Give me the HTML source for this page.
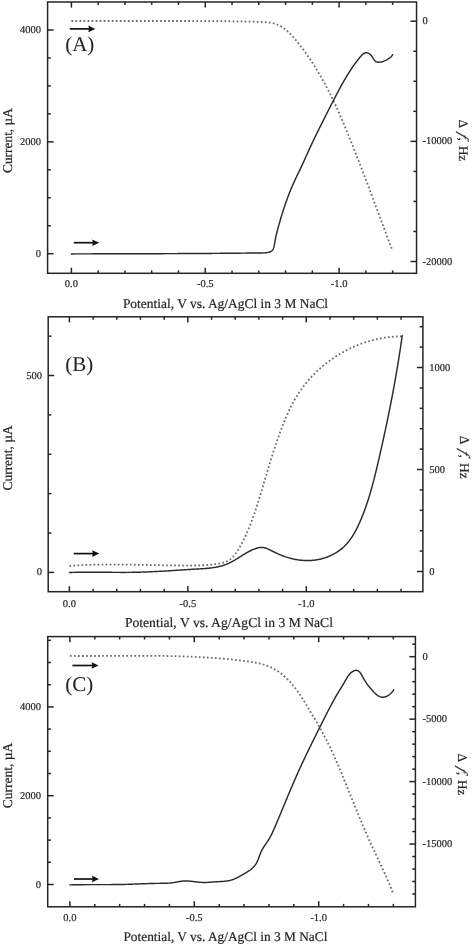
<!DOCTYPE html>
<html><head><meta charset="utf-8"><title>Figure</title>
<style>
html,body{margin:0;padding:0;background:#fff;}
body{width:472px;height:946px;overflow:hidden;}
svg{display:block;will-change:transform;}
text{font-family:"Liberation Serif",serif;fill:#262626;stroke:#262626;stroke-width:0.2px;text-rendering:geometricPrecision;}
</style></head>
<body>
<svg width="472" height="946" viewBox="0 0 472 946">
<rect width="472" height="946" fill="#fff"/>
<rect x="47.6" y="2" width="368.95" height="271.3" fill="none" stroke="#252525" stroke-width="1.5"/>
<line x1="71.4" y1="273.3" x2="71.4" y2="267.7" stroke="#252525" stroke-width="1.5"/>
<line x1="71.4" y1="2" x2="71.4" y2="7.6" stroke="#252525" stroke-width="1.5"/>
<text x="71.4" y="287.4" font-size="10.5" text-anchor="middle" >0.0</text>
<line x1="98.17" y1="273.3" x2="98.17" y2="270.4" stroke="#252525" stroke-width="1.5"/>
<line x1="98.17" y1="2" x2="98.17" y2="4.9" stroke="#252525" stroke-width="1.5"/>
<line x1="124.94" y1="273.3" x2="124.94" y2="270.4" stroke="#252525" stroke-width="1.5"/>
<line x1="124.94" y1="2" x2="124.94" y2="4.9" stroke="#252525" stroke-width="1.5"/>
<line x1="151.71" y1="273.3" x2="151.71" y2="270.4" stroke="#252525" stroke-width="1.5"/>
<line x1="151.71" y1="2" x2="151.71" y2="4.9" stroke="#252525" stroke-width="1.5"/>
<line x1="178.48" y1="273.3" x2="178.48" y2="270.4" stroke="#252525" stroke-width="1.5"/>
<line x1="178.48" y1="2" x2="178.48" y2="4.9" stroke="#252525" stroke-width="1.5"/>
<line x1="205.25" y1="273.3" x2="205.25" y2="267.7" stroke="#252525" stroke-width="1.5"/>
<line x1="205.25" y1="2" x2="205.25" y2="7.6" stroke="#252525" stroke-width="1.5"/>
<text x="205.25" y="287.4" font-size="10.5" text-anchor="middle" >-0.5</text>
<line x1="232.02" y1="273.3" x2="232.02" y2="270.4" stroke="#252525" stroke-width="1.5"/>
<line x1="232.02" y1="2" x2="232.02" y2="4.9" stroke="#252525" stroke-width="1.5"/>
<line x1="258.79" y1="273.3" x2="258.79" y2="270.4" stroke="#252525" stroke-width="1.5"/>
<line x1="258.79" y1="2" x2="258.79" y2="4.9" stroke="#252525" stroke-width="1.5"/>
<line x1="285.56" y1="273.3" x2="285.56" y2="270.4" stroke="#252525" stroke-width="1.5"/>
<line x1="285.56" y1="2" x2="285.56" y2="4.9" stroke="#252525" stroke-width="1.5"/>
<line x1="312.33" y1="273.3" x2="312.33" y2="270.4" stroke="#252525" stroke-width="1.5"/>
<line x1="312.33" y1="2" x2="312.33" y2="4.9" stroke="#252525" stroke-width="1.5"/>
<line x1="339.1" y1="273.3" x2="339.1" y2="267.7" stroke="#252525" stroke-width="1.5"/>
<line x1="339.1" y1="2" x2="339.1" y2="7.6" stroke="#252525" stroke-width="1.5"/>
<text x="339.1" y="287.4" font-size="10.5" text-anchor="middle" >-1.0</text>
<line x1="365.87" y1="273.3" x2="365.87" y2="270.4" stroke="#252525" stroke-width="1.5"/>
<line x1="365.87" y1="2" x2="365.87" y2="4.9" stroke="#252525" stroke-width="1.5"/>
<line x1="392.64" y1="273.3" x2="392.64" y2="270.4" stroke="#252525" stroke-width="1.5"/>
<line x1="392.64" y1="2" x2="392.64" y2="4.9" stroke="#252525" stroke-width="1.5"/>
<line x1="47.6" y1="253.7" x2="53.6" y2="253.7" stroke="#252525" stroke-width="1.5"/>
<text x="41" y="256.7" font-size="10.5" text-anchor="end" >0</text>
<line x1="47.6" y1="225.74" x2="50.8" y2="225.74" stroke="#252525" stroke-width="1.5"/>
<line x1="47.6" y1="197.77" x2="50.8" y2="197.77" stroke="#252525" stroke-width="1.5"/>
<line x1="47.6" y1="169.81" x2="50.8" y2="169.81" stroke="#252525" stroke-width="1.5"/>
<line x1="47.6" y1="141.85" x2="53.6" y2="141.85" stroke="#252525" stroke-width="1.5"/>
<text x="41" y="144.85" font-size="10.5" text-anchor="end" >2000</text>
<line x1="47.6" y1="113.89" x2="50.8" y2="113.89" stroke="#252525" stroke-width="1.5"/>
<line x1="47.6" y1="85.93" x2="50.8" y2="85.93" stroke="#252525" stroke-width="1.5"/>
<line x1="47.6" y1="57.96" x2="50.8" y2="57.96" stroke="#252525" stroke-width="1.5"/>
<line x1="47.6" y1="30" x2="53.6" y2="30" stroke="#252525" stroke-width="1.5"/>
<text x="41" y="33" font-size="10.5" text-anchor="end" >4000</text>
<line x1="416.55" y1="261.5" x2="410.55" y2="261.5" stroke="#252525" stroke-width="1.5"/>
<text x="422.6" y="264.5" font-size="10.5" text-anchor="start" >-20000</text>
<line x1="416.55" y1="231.46" x2="413.35" y2="231.46" stroke="#252525" stroke-width="1.5"/>
<line x1="416.55" y1="201.43" x2="413.35" y2="201.43" stroke="#252525" stroke-width="1.5"/>
<line x1="416.55" y1="171.39" x2="413.35" y2="171.39" stroke="#252525" stroke-width="1.5"/>
<line x1="416.55" y1="141.35" x2="410.55" y2="141.35" stroke="#252525" stroke-width="1.5"/>
<text x="422.6" y="144.35" font-size="10.5" text-anchor="start" >-10000</text>
<line x1="416.55" y1="111.31" x2="413.35" y2="111.31" stroke="#252525" stroke-width="1.5"/>
<line x1="416.55" y1="81.28" x2="413.35" y2="81.28" stroke="#252525" stroke-width="1.5"/>
<line x1="416.55" y1="51.24" x2="413.35" y2="51.24" stroke="#252525" stroke-width="1.5"/>
<line x1="416.55" y1="21.2" x2="410.55" y2="21.2" stroke="#252525" stroke-width="1.5"/>
<text x="422.6" y="24.2" font-size="10.5" text-anchor="start" >0</text>
<text x="0" y="0" font-size="13.4" text-anchor="middle" transform="translate(11.7,140.55) rotate(-90)">Current, µA</text>
<g transform="translate(459.3,119.4) rotate(90)"><text x="0" y="0" font-size="13">Δ</text><text x="0" y="0" font-size="14" font-style="italic" transform="translate(12.9,0) skewX(-22)">f</text><text x="18.2" y="0" font-size="13">,</text><text x="26.5" y="0" font-size="13">Hz</text></g>
<text x="122.9" y="307.6" font-size="13.45" text-anchor="start" >Potential, V vs. Ag/AgCl in 3 M NaCl</text>
<text x="65.2" y="50.7" font-size="21.0" text-anchor="start" style="stroke-width:0.05px">(A)</text>
<path d="M71.42,20.98 L72.19,20.98 L72.96,20.98 L73.73,20.98 L74.51,20.98 L75.28,20.99 L76.05,20.99 L76.82,20.99 L77.6,20.99 L78.37,20.99 L79.14,20.99 L79.92,20.99 L80.69,21 L81.46,21 L82.24,21 L83.01,21 L83.78,21 L84.55,21 L85.33,21 L86.1,21 L86.87,21 L87.65,21 L88.42,21 L89.19,21.01 L89.97,21.01 L90.74,21.01 L91.51,21.01 L92.29,21.01 L93.06,21.01 L93.84,21.01 L94.61,21.01 L95.38,21.01 L96.16,21.01 L96.93,21.01 L97.7,21.01 L98.48,21.01 L99.25,21.01 L100.02,21.01 L100.8,21.01 L101.57,21.01 L102.35,21.01 L103.12,21.01 L103.89,21.01 L104.67,21.01 L105.44,21.01 L106.21,21.01 L106.99,21.01 L107.76,21.01 L108.54,21.01 L109.31,21.01 L110.08,21.01 L110.86,21.01 L111.63,21.01 L112.41,21.01 L113.18,21.01 L113.95,21.01 L114.73,21.01 L115.5,21.01 L116.28,21.01 L117.05,21.01 L117.83,21.01 L118.6,21.01 L119.37,21.01 L120.15,21.01 L120.92,21.01 L121.7,21.01 L122.47,21.01 L123.24,21.01 L124.02,21.01 L124.79,21.01 L125.57,21.01 L126.34,21.01 L127.12,21.01 L127.89,21.01 L128.66,21.01 L129.44,21 L130.21,21 L130.99,21 L131.76,21 L132.54,21 L133.31,21 L134.08,21 L134.86,21 L135.63,21 L136.41,21 L137.18,21 L137.96,21 L138.73,21 L139.5,21 L140.28,21 L141.05,21 L141.83,21 L142.6,21 L143.38,21 L144.15,21 L144.92,21 L145.7,21 L146.47,21 L147.25,21 L148.02,21 L148.79,21 L149.57,21 L150.34,21 L151.12,21 L151.89,21 L152.67,21 L153.44,21 L154.21,21 L154.99,21 L155.76,21 L156.54,21 L157.31,21 L158.08,21 L158.86,21 L159.63,21 L160.41,21 L161.18,21 L161.96,21 L162.73,21 L163.5,21 L164.28,21 L165.05,21 L165.83,21 L166.6,21 L167.37,21 L168.15,21 L168.92,21 L169.7,21 L170.47,21 L171.24,21 L172.02,21 L172.79,21 L173.56,21 L174.34,21 L175.11,21 L175.89,21 L176.66,21 L177.43,21.01 L178.21,21.01 L178.98,21.01 L179.75,21.01 L180.53,21.01 L181.3,21.01 L182.07,21.01 L182.85,21.01 L183.62,21.01 L184.39,21.02 L185.17,21.02 L185.94,21.02 L186.71,21.02 L187.49,21.02 L188.26,21.02 L189.03,21.02 L189.81,21.03 L190.58,21.03 L191.35,21.03 L192.13,21.03 L192.9,21.03 L193.67,21.03 L194.45,21.04 L195.22,21.04 L195.99,21.04 L196.77,21.04 L197.54,21.04 L198.31,21.05 L199.08,21.05 L199.86,21.05 L200.63,21.05 L201.4,21.06 L202.18,21.06 L202.95,21.06 L203.72,21.07 L204.49,21.07 L205.27,21.07 L206.04,21.08 L206.81,21.08 L207.59,21.09 L208.36,21.09 L209.13,21.09 L209.91,21.1 L210.68,21.1 L211.45,21.11 L212.22,21.11 L213,21.12 L213.77,21.12 L214.54,21.13 L215.32,21.13 L216.09,21.14 L216.86,21.14 L217.63,21.15 L218.41,21.16 L219.18,21.16 L219.95,21.17 L220.73,21.18 L221.5,21.18 L222.27,21.19 L223.05,21.2 L223.82,21.21 L224.59,21.21 L225.37,21.22 L226.14,21.23 L226.91,21.24 L227.69,21.25 L228.46,21.26 L229.23,21.27 L230.01,21.28 L230.78,21.29 L231.55,21.3 L232.33,21.31 L233.1,21.32 L233.87,21.33 L234.65,21.34 L235.42,21.35 L236.19,21.36 L236.97,21.37 L237.74,21.39 L238.52,21.4 L239.29,21.41 L240.06,21.43 L240.84,21.44 L241.61,21.45 L242.39,21.47 L243.16,21.48 L243.94,21.5 L244.71,21.51 L245.48,21.53 L246.26,21.54 L247.03,21.56 L247.81,21.58 L248.58,21.59 L249.36,21.61 L250.13,21.63 L250.91,21.65 L251.69,21.67 L252.46,21.69 L253.24,21.71 L254.02,21.73 L254.8,21.75 L255.58,21.77 L256.36,21.8 L257.15,21.82 L257.93,21.85 L258.72,21.88 L259.51,21.91 L260.3,21.94 L261.09,21.97 L261.88,22 L262.68,22.04 L263.47,22.08 L264.27,22.12 L265.06,22.17 L265.86,22.22 L266.65,22.29 L267.43,22.36 L268.22,22.44 L269,22.53 L269.77,22.64 L270.54,22.75 L271.31,22.88 L272.07,23.02 L272.82,23.18 L273.56,23.36 L274.3,23.55 L275.02,23.76 L275.74,23.99 L276.44,24.24 L277.14,24.51 L277.83,24.8 L278.5,25.1 L279.17,25.42 L279.83,25.76 L280.49,26.11 L281.13,26.48 L281.77,26.86 L282.4,27.26 L283.02,27.67 L283.63,28.1 L284.24,28.54 L284.83,28.99 L285.43,29.45 L286.01,29.93 L286.59,30.42 L287.17,30.91 L287.73,31.42 L288.29,31.94 L288.85,32.46 L289.4,32.99 L289.95,33.54 L290.49,34.09 L291.02,34.64 L291.55,35.21 L292.08,35.78 L292.6,36.35 L293.12,36.93 L293.64,37.52 L294.15,38.11 L294.66,38.7 L295.16,39.3 L295.66,39.9 L296.16,40.5 L296.66,41.1 L297.15,41.71 L297.64,42.31 L298.13,42.92 L298.62,43.53 L299.11,44.14 L299.59,44.75 L300.07,45.36 L300.55,45.98 L301.02,46.59 L301.5,47.21 L301.97,47.83 L302.44,48.45 L302.9,49.07 L303.37,49.69 L303.83,50.32 L304.29,50.94 L304.75,51.57 L305.2,52.19 L305.65,52.82 L306.11,53.45 L306.55,54.09 L307,54.72 L307.45,55.35 L307.89,55.99 L308.33,56.63 L308.77,57.26 L309.2,57.9 L309.64,58.54 L310.07,59.18 L310.5,59.83 L310.93,60.47 L311.36,61.12 L311.78,61.76 L312.2,62.41 L312.62,63.06 L313.04,63.71 L313.46,64.36 L313.87,65.01 L314.29,65.66 L314.7,66.32 L315.11,66.97 L315.51,67.63 L315.92,68.29 L316.32,68.95 L316.73,69.61 L317.13,70.27 L317.52,70.93 L317.92,71.59 L318.31,72.25 L318.71,72.92 L319.1,73.58 L319.49,74.25 L319.88,74.92 L320.26,75.59 L320.65,76.26 L321.03,76.93 L321.41,77.6 L321.79,78.27 L322.17,78.95 L322.54,79.62 L322.92,80.3 L323.29,80.97 L323.66,81.65 L324.03,82.33 L324.4,83 L324.77,83.68 L325.13,84.36 L325.5,85.05 L325.86,85.73 L326.22,86.41 L326.58,87.1 L326.94,87.78 L327.3,88.47 L327.65,89.15 L328.01,89.84 L328.36,90.53 L328.71,91.21 L329.06,91.9 L329.41,92.59 L329.75,93.28 L330.1,93.98 L330.44,94.67 L330.79,95.36 L331.13,96.05 L331.47,96.75 L331.81,97.44 L332.15,98.14 L332.48,98.84 L332.82,99.53 L333.15,100.23 L333.49,100.93 L333.82,101.63 L334.15,102.33 L334.48,103.03 L334.81,103.73 L335.14,104.43 L335.46,105.13 L335.79,105.83 L336.11,106.53 L336.44,107.24 L336.76,107.94 L337.08,108.65 L337.4,109.35 L337.72,110.06 L338.04,110.76 L338.35,111.47 L338.67,112.18 L338.99,112.88 L339.3,113.59 L339.61,114.3 L339.93,115.01 L340.24,115.72 L340.55,116.43 L340.86,117.14 L341.17,117.85 L341.47,118.56 L341.78,119.27 L342.09,119.98 L342.39,120.7 L342.7,121.41 L343,122.12 L343.31,122.83 L343.61,123.55 L343.91,124.26 L344.21,124.98 L344.51,125.69 L344.81,126.41 L345.11,127.12 L345.41,127.84 L345.71,128.55 L346.01,129.27 L346.3,129.98 L346.6,130.7 L346.89,131.42 L347.19,132.13 L347.48,132.85 L347.78,133.57 L348.07,134.28 L348.36,135 L348.65,135.72 L348.94,136.44 L349.24,137.16 L349.53,137.88 L349.82,138.59 L350.11,139.31 L350.4,140.03 L350.68,140.75 L350.97,141.47 L351.26,142.19 L351.55,142.91 L351.84,143.63 L352.12,144.35 L352.41,145.06 L352.7,145.78 L352.98,146.5 L353.27,147.22 L353.55,147.94 L353.84,148.66 L354.12,149.38 L354.41,150.1 L354.69,150.82 L354.97,151.54 L355.26,152.26 L355.54,152.98 L355.82,153.7 L356.1,154.42 L356.39,155.14 L356.67,155.86 L356.95,156.58 L357.23,157.31 L357.51,158.03 L357.79,158.75 L358.07,159.47 L358.35,160.19 L358.63,160.91 L358.91,161.63 L359.19,162.35 L359.47,163.07 L359.75,163.79 L360.03,164.51 L360.31,165.24 L360.58,165.96 L360.86,166.68 L361.14,167.4 L361.42,168.12 L361.69,168.84 L361.97,169.56 L362.25,170.29 L362.52,171.01 L362.8,171.73 L363.08,172.45 L363.35,173.17 L363.63,173.9 L363.9,174.62 L364.18,175.34 L364.45,176.06 L364.73,176.78 L365,177.51 L365.28,178.23 L365.55,178.95 L365.83,179.67 L366.1,180.4 L366.37,181.12 L366.65,181.84 L366.92,182.56 L367.19,183.29 L367.47,184.01 L367.74,184.73 L368.01,185.45 L368.29,186.18 L368.56,186.9 L368.83,187.62 L369.1,188.35 L369.38,189.07 L369.65,189.79 L369.92,190.52 L370.19,191.24 L370.47,191.96 L370.74,192.69 L371.01,193.41 L371.28,194.13 L371.55,194.86 L371.82,195.58 L372.09,196.3 L372.37,197.03 L372.64,197.75 L372.91,198.47 L373.18,199.2 L373.45,199.92 L373.72,200.65 L373.99,201.37 L374.26,202.09 L374.53,202.82 L374.81,203.54 L375.08,204.26 L375.35,204.99 L375.62,205.71 L375.89,206.44 L376.16,207.16 L376.43,207.89 L376.7,208.61 L376.97,209.33 L377.24,210.06 L377.51,210.78 L377.78,211.51 L378.05,212.23 L378.32,212.96 L378.59,213.68 L378.86,214.4 L379.14,215.13 L379.41,215.85 L379.68,216.58 L379.95,217.3 L380.22,218.03 L380.49,218.75 L380.76,219.48 L381.03,220.2 L381.3,220.93 L381.57,221.65 L381.84,222.38 L382.11,223.1 L382.39,223.83 L382.66,224.55 L382.93,225.28 L383.2,226 L383.47,226.73 L383.74,227.45 L384.01,228.18 L384.29,228.9 L384.56,229.63 L384.83,230.35 L385.1,231.08 L385.37,231.8 L385.65,232.53 L385.92,233.25 L386.19,233.98 L386.46,234.7 L386.74,235.43 L387.01,236.15 L387.28,236.88 L387.56,237.6 L387.83,238.33 L388.1,239.05 L388.38,239.78 L388.65,240.51 L388.92,241.23 L389.2,241.96 L389.47,242.68 L389.75,243.41 L390.02,244.13 L390.3,244.86 L390.57,245.58 L390.85,246.31 L391.12,247.04 L391.4,247.76 L391.67,248.49 L391.95,249.21 L392.22,249.94 L392.5,250.66" fill="none" stroke="#6a6a6a" stroke-width="1.8" stroke-dasharray="1.7 2.33"/>
<path d="M71.4,253.9 L72.16,253.9 L72.92,253.9 L73.68,253.9 L74.45,253.89 L75.21,253.89 L75.97,253.89 L76.73,253.89 L77.5,253.89 L78.26,253.88 L79.02,253.88 L79.78,253.88 L80.55,253.88 L81.31,253.87 L82.07,253.87 L82.83,253.87 L83.6,253.87 L84.36,253.87 L85.12,253.86 L85.88,253.86 L86.65,253.86 L87.41,253.86 L88.17,253.86 L88.93,253.85 L89.7,253.85 L90.46,253.85 L91.22,253.85 L91.98,253.85 L92.75,253.84 L93.51,253.84 L94.27,253.84 L95.03,253.84 L95.8,253.84 L96.56,253.83 L97.32,253.83 L98.08,253.83 L98.84,253.83 L99.61,253.83 L100.37,253.82 L101.13,253.82 L101.89,253.82 L102.66,253.82 L103.42,253.82 L104.18,253.82 L104.94,253.81 L105.71,253.81 L106.47,253.81 L107.23,253.81 L107.99,253.81 L108.75,253.8 L109.52,253.8 L110.28,253.8 L111.04,253.8 L111.8,253.8 L112.57,253.8 L113.33,253.79 L114.09,253.79 L114.85,253.79 L115.62,253.79 L116.38,253.79 L117.14,253.78 L117.9,253.78 L118.66,253.78 L119.43,253.78 L120.19,253.78 L120.95,253.77 L121.71,253.77 L122.48,253.77 L123.24,253.77 L124,253.77 L124.76,253.77 L125.52,253.76 L126.29,253.76 L127.05,253.76 L127.81,253.76 L128.57,253.76 L129.34,253.75 L130.1,253.75 L130.86,253.75 L131.62,253.75 L132.38,253.75 L133.15,253.74 L133.91,253.74 L134.67,253.74 L135.43,253.74 L136.2,253.74 L136.96,253.73 L137.72,253.73 L138.48,253.73 L139.24,253.73 L140.01,253.73 L140.77,253.72 L141.53,253.72 L142.29,253.72 L143.06,253.72 L143.82,253.71 L144.58,253.71 L145.34,253.71 L146.1,253.71 L146.87,253.71 L147.63,253.7 L148.39,253.7 L149.15,253.7 L149.92,253.7 L150.68,253.69 L151.44,253.69 L152.2,253.69 L152.97,253.69 L153.73,253.68 L154.49,253.68 L155.25,253.68 L156.01,253.68 L156.78,253.67 L157.54,253.67 L158.3,253.67 L159.06,253.67 L159.83,253.66 L160.59,253.66 L161.35,253.66 L162.11,253.66 L162.87,253.65 L163.64,253.65 L164.4,253.65 L165.16,253.64 L165.92,253.64 L166.69,253.64 L167.45,253.64 L168.21,253.63 L168.97,253.63 L169.74,253.63 L170.5,253.62 L171.26,253.62 L172.02,253.62 L172.79,253.61 L173.55,253.61 L174.31,253.61 L175.07,253.61 L175.83,253.6 L176.6,253.6 L177.36,253.6 L178.12,253.59 L178.88,253.59 L179.65,253.59 L180.41,253.58 L181.17,253.58 L181.93,253.57 L182.7,253.57 L183.46,253.57 L184.22,253.56 L184.98,253.56 L185.75,253.56 L186.51,253.55 L187.27,253.55 L188.03,253.55 L188.8,253.54 L189.56,253.54 L190.32,253.53 L191.08,253.53 L191.85,253.53 L192.61,253.52 L193.37,253.52 L194.13,253.51 L194.9,253.51 L195.66,253.51 L196.42,253.5 L197.18,253.5 L197.95,253.49 L198.71,253.49 L199.47,253.48 L200.23,253.48 L201,253.47 L201.76,253.47 L202.52,253.47 L203.28,253.46 L204.05,253.46 L204.81,253.45 L205.57,253.45 L206.33,253.44 L207.1,253.44 L207.86,253.43 L208.62,253.43 L209.38,253.42 L210.14,253.42 L210.91,253.41 L211.67,253.41 L212.43,253.4 L213.19,253.39 L213.96,253.39 L214.72,253.38 L215.48,253.38 L216.24,253.37 L217.01,253.37 L217.77,253.36 L218.53,253.36 L219.29,253.35 L220.05,253.34 L220.82,253.34 L221.58,253.33 L222.34,253.33 L223.1,253.32 L223.87,253.31 L224.63,253.31 L225.39,253.3 L226.15,253.29 L226.91,253.29 L227.68,253.28 L228.44,253.27 L229.2,253.27 L229.96,253.26 L230.72,253.25 L231.48,253.25 L232.25,253.24 L233.01,253.23 L233.77,253.23 L234.53,253.22 L235.29,253.21 L236.05,253.2 L236.82,253.2 L237.58,253.19 L238.34,253.18 L239.1,253.17 L239.86,253.17 L240.62,253.16 L241.39,253.15 L242.15,253.14 L242.91,253.14 L243.67,253.13 L244.43,253.12 L245.19,253.11 L245.95,253.1 L246.71,253.09 L247.48,253.09 L248.24,253.08 L249,253.07 L249.76,253.06 L250.52,253.05 L251.28,253.05 L252.05,253.04 L252.81,253.03 L253.57,253.02 L254.34,253.02 L255.1,253.01 L255.87,253 L256.63,253 L257.4,252.99 L258.17,252.99 L258.94,252.98 L259.71,252.98 L260.47,252.97 L261.24,252.96 L262.01,252.95 L262.78,252.93 L263.55,252.89 L264.32,252.85 L265.08,252.79 L265.85,252.72 L266.61,252.64 L267.37,252.53 L268.12,252.4 L268.85,252.24 L269.56,252.04 L270.24,251.8 L270.87,251.5 L271.46,251.14 L271.98,250.71 L272.44,250.21 L272.84,249.65 L273.19,249.02 L273.48,248.35 L273.73,247.63 L273.95,246.88 L274.14,246.1 L274.3,245.31 L274.45,244.51 L274.59,243.71 L274.72,242.92 L274.85,242.14 L274.99,241.37 L275.12,240.61 L275.26,239.87 L275.4,239.12 L275.54,238.39 L275.69,237.65 L275.84,236.91 L276,236.18 L276.16,235.44 L276.33,234.71 L276.5,233.97 L276.68,233.24 L276.86,232.5 L277.04,231.77 L277.23,231.03 L277.42,230.29 L277.61,229.56 L277.81,228.82 L278.01,228.09 L278.21,227.35 L278.41,226.62 L278.62,225.88 L278.83,225.15 L279.03,224.41 L279.24,223.68 L279.46,222.94 L279.67,222.21 L279.88,221.47 L280.09,220.74 L280.31,220.01 L280.53,219.28 L280.74,218.54 L280.96,217.81 L281.18,217.08 L281.4,216.35 L281.62,215.62 L281.85,214.89 L282.07,214.16 L282.3,213.43 L282.53,212.71 L282.76,211.98 L282.99,211.25 L283.22,210.52 L283.45,209.8 L283.69,209.07 L283.92,208.35 L284.16,207.62 L284.4,206.9 L284.64,206.18 L284.89,205.45 L285.13,204.73 L285.38,204.01 L285.63,203.29 L285.88,202.57 L286.13,201.85 L286.38,201.13 L286.64,200.42 L286.9,199.7 L287.16,198.98 L287.42,198.27 L287.68,197.56 L287.95,196.84 L288.21,196.13 L288.48,195.42 L288.76,194.71 L289.03,194 L289.31,193.29 L289.59,192.58 L289.87,191.87 L290.15,191.16 L290.44,190.46 L290.72,189.75 L291.01,189.05 L291.31,188.35 L291.6,187.65 L291.9,186.94 L292.2,186.24 L292.5,185.55 L292.81,184.85 L293.11,184.15 L293.42,183.45 L293.73,182.76 L294.05,182.07 L294.37,181.37 L294.69,180.68 L295.01,179.99 L295.33,179.3 L295.66,178.61 L295.99,177.92 L296.31,177.23 L296.64,176.55 L296.97,175.86 L297.31,175.17 L297.64,174.48 L297.97,173.8 L298.3,173.11 L298.63,172.42 L298.97,171.74 L299.3,171.05 L299.63,170.36 L299.96,169.67 L300.28,168.99 L300.61,168.3 L300.94,167.61 L301.26,166.92 L301.58,166.23 L301.9,165.54 L302.22,164.84 L302.54,164.15 L302.86,163.46 L303.18,162.77 L303.5,162.08 L303.81,161.38 L304.13,160.69 L304.45,160 L304.76,159.3 L305.08,158.61 L305.39,157.91 L305.7,157.22 L306.02,156.53 L306.33,155.83 L306.65,155.14 L306.96,154.44 L307.27,153.75 L307.59,153.06 L307.9,152.36 L308.21,151.67 L308.53,150.97 L308.84,150.28 L309.16,149.59 L309.48,148.89 L309.79,148.2 L310.11,147.51 L310.43,146.82 L310.75,146.12 L311.07,145.43 L311.39,144.74 L311.71,144.05 L312.03,143.36 L312.36,142.67 L312.68,141.98 L313.01,141.29 L313.34,140.6 L313.67,139.91 L313.99,139.22 L314.32,138.54 L314.66,137.85 L314.99,137.16 L315.32,136.48 L315.65,135.79 L315.99,135.1 L316.32,134.42 L316.66,133.73 L317,133.05 L317.33,132.36 L317.67,131.68 L318.01,131 L318.35,130.31 L318.69,129.63 L319.03,128.95 L319.37,128.26 L319.71,127.58 L320.05,126.9 L320.39,126.22 L320.73,125.53 L321.08,124.85 L321.42,124.17 L321.76,123.49 L322.1,122.81 L322.45,122.13 L322.79,121.45 L323.13,120.77 L323.47,120.09 L323.82,119.41 L324.16,118.73 L324.5,118.05 L324.84,117.37 L325.19,116.69 L325.53,116.01 L325.87,115.33 L326.21,114.65 L326.56,113.97 L326.9,113.29 L327.24,112.61 L327.59,111.93 L327.93,111.25 L328.27,110.57 L328.61,109.89 L328.96,109.21 L329.3,108.54 L329.65,107.86 L329.99,107.18 L330.34,106.5 L330.68,105.82 L331.03,105.14 L331.37,104.47 L331.72,103.79 L332.07,103.11 L332.41,102.43 L332.76,101.76 L333.11,101.08 L333.46,100.4 L333.81,99.73 L334.16,99.05 L334.51,98.37 L334.86,97.7 L335.21,97.02 L335.57,96.34 L335.92,95.67 L336.27,94.99 L336.63,94.31 L336.99,93.64 L337.34,92.96 L337.7,92.29 L338.06,91.61 L338.42,90.94 L338.78,90.26 L339.14,89.59 L339.51,88.91 L339.87,88.24 L340.24,87.57 L340.6,86.89 L340.97,86.22 L341.34,85.55 L341.71,84.88 L342.08,84.22 L342.46,83.55 L342.83,82.88 L343.21,82.22 L343.58,81.55 L343.96,80.89 L344.35,80.23 L344.73,79.57 L345.11,78.91 L345.5,78.25 L345.89,77.6 L346.28,76.94 L346.67,76.29 L347.06,75.64 L347.46,74.99 L347.86,74.35 L348.26,73.7 L348.66,73.06 L349.06,72.42 L349.47,71.79 L349.88,71.15 L350.29,70.52 L350.7,69.89 L351.12,69.26 L351.53,68.64 L351.95,68.01 L352.38,67.39 L352.8,66.77 L353.23,66.16 L353.67,65.54 L354.1,64.93 L354.55,64.31 L354.99,63.7 L355.44,63.09 L355.9,62.47 L356.36,61.86 L356.83,61.24 L357.3,60.63 L357.78,60.01 L358.27,59.39 L358.76,58.77 L359.26,58.15 L359.77,57.52 L360.29,56.89 L360.81,56.27 L361.35,55.67 L361.89,55.09 L362.45,54.55 L363.02,54.06 L363.6,53.63 L364.2,53.27 L364.81,53 L365.43,52.81 L366.08,52.72 L366.74,52.74 L367.4,52.86 L368.06,53.07 L368.72,53.37 L369.35,53.75 L369.96,54.21 L370.54,54.73 L371.08,55.32 L371.58,55.96 L372.05,56.64 L372.51,57.34 L372.95,58.04 L373.38,58.73 L373.83,59.39 L374.28,60.02 L374.76,60.59 L375.27,61.09 L375.82,61.51 L376.41,61.83 L377.04,62.06 L377.7,62.2 L378.4,62.27 L379.11,62.28 L379.84,62.22 L380.59,62.11 L381.33,61.95 L382.08,61.75 L382.82,61.52 L383.56,61.25 L384.3,60.95 L385.02,60.63 L385.74,60.28 L386.44,59.91 L387.12,59.53 L387.79,59.13 L388.44,58.72 L389.07,58.3 L389.67,57.86 L390.24,57.41 L390.79,56.94 L391.31,56.43 L391.8,55.88 L392.26,55.29 L392.68,54.64" fill="none" stroke="#2a2a2a" stroke-width="1.45" stroke-linejoin="round" stroke-linecap="round"/>
<line x1="69.8" y1="28.9" x2="89.3" y2="28.9" stroke="#111" stroke-width="1.7"/>
<path d="M95.3,28.9 L88.3,25.6 L89,28.9 L88.3,32.2 Z" fill="#111"/>
<line x1="73.8" y1="242.7" x2="93.2" y2="242.7" stroke="#111" stroke-width="1.7"/>
<path d="M99.2,242.7 L92.2,239.4 L92.9,242.7 L92.2,246 Z" fill="#111"/>
<rect x="48.2" y="316.8" width="374.7" height="274.9" fill="none" stroke="#252525" stroke-width="1.5"/>
<line x1="69.4" y1="591.7" x2="69.4" y2="586.1" stroke="#252525" stroke-width="1.5"/>
<line x1="69.4" y1="316.8" x2="69.4" y2="322.4" stroke="#252525" stroke-width="1.5"/>
<text x="69.4" y="606.7" font-size="10.5" text-anchor="middle" >0.0</text>
<line x1="93.09" y1="591.7" x2="93.09" y2="588.8" stroke="#252525" stroke-width="1.5"/>
<line x1="93.09" y1="316.8" x2="93.09" y2="319.7" stroke="#252525" stroke-width="1.5"/>
<line x1="116.78" y1="591.7" x2="116.78" y2="588.8" stroke="#252525" stroke-width="1.5"/>
<line x1="116.78" y1="316.8" x2="116.78" y2="319.7" stroke="#252525" stroke-width="1.5"/>
<line x1="140.47" y1="591.7" x2="140.47" y2="588.8" stroke="#252525" stroke-width="1.5"/>
<line x1="140.47" y1="316.8" x2="140.47" y2="319.7" stroke="#252525" stroke-width="1.5"/>
<line x1="164.16" y1="591.7" x2="164.16" y2="588.8" stroke="#252525" stroke-width="1.5"/>
<line x1="164.16" y1="316.8" x2="164.16" y2="319.7" stroke="#252525" stroke-width="1.5"/>
<line x1="187.85" y1="591.7" x2="187.85" y2="586.1" stroke="#252525" stroke-width="1.5"/>
<line x1="187.85" y1="316.8" x2="187.85" y2="322.4" stroke="#252525" stroke-width="1.5"/>
<text x="187.85" y="606.7" font-size="10.5" text-anchor="middle" >-0.5</text>
<line x1="211.54" y1="591.7" x2="211.54" y2="588.8" stroke="#252525" stroke-width="1.5"/>
<line x1="211.54" y1="316.8" x2="211.54" y2="319.7" stroke="#252525" stroke-width="1.5"/>
<line x1="235.23" y1="591.7" x2="235.23" y2="588.8" stroke="#252525" stroke-width="1.5"/>
<line x1="235.23" y1="316.8" x2="235.23" y2="319.7" stroke="#252525" stroke-width="1.5"/>
<line x1="258.92" y1="591.7" x2="258.92" y2="588.8" stroke="#252525" stroke-width="1.5"/>
<line x1="258.92" y1="316.8" x2="258.92" y2="319.7" stroke="#252525" stroke-width="1.5"/>
<line x1="282.61" y1="591.7" x2="282.61" y2="588.8" stroke="#252525" stroke-width="1.5"/>
<line x1="282.61" y1="316.8" x2="282.61" y2="319.7" stroke="#252525" stroke-width="1.5"/>
<line x1="306.3" y1="591.7" x2="306.3" y2="586.1" stroke="#252525" stroke-width="1.5"/>
<line x1="306.3" y1="316.8" x2="306.3" y2="322.4" stroke="#252525" stroke-width="1.5"/>
<text x="306.3" y="606.7" font-size="10.5" text-anchor="middle" >-1.0</text>
<line x1="329.99" y1="591.7" x2="329.99" y2="588.8" stroke="#252525" stroke-width="1.5"/>
<line x1="329.99" y1="316.8" x2="329.99" y2="319.7" stroke="#252525" stroke-width="1.5"/>
<line x1="353.68" y1="591.7" x2="353.68" y2="588.8" stroke="#252525" stroke-width="1.5"/>
<line x1="353.68" y1="316.8" x2="353.68" y2="319.7" stroke="#252525" stroke-width="1.5"/>
<line x1="377.37" y1="591.7" x2="377.37" y2="588.8" stroke="#252525" stroke-width="1.5"/>
<line x1="377.37" y1="316.8" x2="377.37" y2="319.7" stroke="#252525" stroke-width="1.5"/>
<line x1="401.06" y1="591.7" x2="401.06" y2="588.8" stroke="#252525" stroke-width="1.5"/>
<line x1="401.06" y1="316.8" x2="401.06" y2="319.7" stroke="#252525" stroke-width="1.5"/>
<line x1="48.2" y1="572.4" x2="54.2" y2="572.4" stroke="#252525" stroke-width="1.5"/>
<text x="42" y="575.4" font-size="10.5" text-anchor="end" >0</text>
<line x1="48.2" y1="533.02" x2="51.4" y2="533.02" stroke="#252525" stroke-width="1.5"/>
<line x1="48.2" y1="493.64" x2="51.4" y2="493.64" stroke="#252525" stroke-width="1.5"/>
<line x1="48.2" y1="454.26" x2="51.4" y2="454.26" stroke="#252525" stroke-width="1.5"/>
<line x1="48.2" y1="414.88" x2="51.4" y2="414.88" stroke="#252525" stroke-width="1.5"/>
<line x1="48.2" y1="375.5" x2="54.2" y2="375.5" stroke="#252525" stroke-width="1.5"/>
<text x="42" y="378.5" font-size="10.5" text-anchor="end" >500</text>
<line x1="48.2" y1="336.12" x2="51.4" y2="336.12" stroke="#252525" stroke-width="1.5"/>
<line x1="422.9" y1="571.5" x2="416.9" y2="571.5" stroke="#252525" stroke-width="1.5"/>
<text x="429.2" y="574.5" font-size="10.5" text-anchor="start" >0</text>
<line x1="422.9" y1="551.1" x2="419.7" y2="551.1" stroke="#252525" stroke-width="1.5"/>
<line x1="422.9" y1="530.7" x2="419.7" y2="530.7" stroke="#252525" stroke-width="1.5"/>
<line x1="422.9" y1="510.3" x2="419.7" y2="510.3" stroke="#252525" stroke-width="1.5"/>
<line x1="422.9" y1="489.9" x2="419.7" y2="489.9" stroke="#252525" stroke-width="1.5"/>
<line x1="422.9" y1="469.5" x2="416.9" y2="469.5" stroke="#252525" stroke-width="1.5"/>
<text x="429.2" y="472.5" font-size="10.5" text-anchor="start" >500</text>
<line x1="422.9" y1="449.1" x2="419.7" y2="449.1" stroke="#252525" stroke-width="1.5"/>
<line x1="422.9" y1="428.7" x2="419.7" y2="428.7" stroke="#252525" stroke-width="1.5"/>
<line x1="422.9" y1="408.3" x2="419.7" y2="408.3" stroke="#252525" stroke-width="1.5"/>
<line x1="422.9" y1="387.9" x2="419.7" y2="387.9" stroke="#252525" stroke-width="1.5"/>
<line x1="422.9" y1="367.5" x2="416.9" y2="367.5" stroke="#252525" stroke-width="1.5"/>
<text x="429.2" y="370.5" font-size="10.5" text-anchor="start" >1000</text>
<line x1="422.9" y1="347.1" x2="419.7" y2="347.1" stroke="#252525" stroke-width="1.5"/>
<line x1="422.9" y1="326.7" x2="419.7" y2="326.7" stroke="#252525" stroke-width="1.5"/>
<text x="0" y="0" font-size="13.45" text-anchor="middle" transform="translate(11.7,457.9) rotate(-90)">Current, µA</text>
<g transform="translate(460,435.8) rotate(90)"><text x="0" y="0" font-size="13.4">Δ</text><text x="0" y="0" font-size="14.4" font-style="italic" transform="translate(13.3,0) skewX(-22)">f</text><text x="18.76" y="0" font-size="13.4">,</text><text x="27.32" y="0" font-size="13.4">Hz</text></g>
<text x="124.9" y="627" font-size="13.64" text-anchor="start" >Potential, V vs. Ag/AgCl in 3 M NaCl</text>
<text x="65.2" y="371.1" font-size="21.0" text-anchor="start" style="stroke-width:0.05px">(B)</text>
<path d="M69.42,565.84 L70.19,565.79 L70.97,565.73 L71.74,565.68 L72.52,565.63 L73.29,565.59 L74.07,565.54 L74.84,565.49 L75.62,565.45 L76.39,565.41 L77.17,565.36 L77.95,565.32 L78.72,565.28 L79.5,565.25 L80.27,565.21 L81.05,565.17 L81.82,565.14 L82.6,565.1 L83.37,565.07 L84.15,565.04 L84.93,565.01 L85.7,564.98 L86.48,564.95 L87.25,564.93 L88.03,564.9 L88.81,564.87 L89.58,564.85 L90.36,564.83 L91.13,564.8 L91.91,564.78 L92.69,564.76 L93.46,564.74 L94.24,564.72 L95.02,564.71 L95.79,564.69 L96.57,564.67 L97.35,564.66 L98.12,564.65 L98.9,564.63 L99.67,564.62 L100.45,564.61 L101.23,564.6 L102,564.59 L102.78,564.58 L103.56,564.57 L104.34,564.56 L105.11,564.56 L105.89,564.55 L106.67,564.55 L107.44,564.54 L108.22,564.54 L109,564.53 L109.77,564.53 L110.55,564.53 L111.33,564.53 L112.1,564.53 L112.88,564.53 L113.66,564.53 L114.43,564.53 L115.21,564.53 L115.99,564.53 L116.77,564.54 L117.54,564.54 L118.32,564.54 L119.1,564.55 L119.87,564.55 L120.65,564.56 L121.43,564.57 L122.21,564.57 L122.98,564.58 L123.76,564.59 L124.54,564.6 L125.31,564.6 L126.09,564.61 L126.87,564.62 L127.65,564.63 L128.42,564.64 L129.2,564.65 L129.98,564.66 L130.75,564.67 L131.53,564.69 L132.31,564.7 L133.09,564.71 L133.86,564.72 L134.64,564.73 L135.42,564.75 L136.19,564.76 L136.97,564.77 L137.75,564.79 L138.52,564.8 L139.3,564.82 L140.08,564.83 L140.86,564.84 L141.63,564.86 L142.41,564.87 L143.19,564.89 L143.96,564.9 L144.74,564.92 L145.52,564.93 L146.29,564.95 L147.07,564.96 L147.85,564.98 L148.62,564.99 L149.4,565.01 L150.18,565.03 L150.95,565.04 L151.73,565.06 L152.51,565.07 L153.28,565.09 L154.06,565.1 L154.84,565.12 L155.61,565.13 L156.39,565.15 L157.16,565.16 L157.94,565.18 L158.72,565.19 L159.49,565.21 L160.27,565.22 L161.05,565.24 L161.82,565.25 L162.6,565.27 L163.37,565.28 L164.15,565.29 L164.93,565.31 L165.7,565.32 L166.48,565.34 L167.25,565.35 L168.03,565.36 L168.8,565.37 L169.58,565.39 L170.36,565.4 L171.13,565.41 L171.91,565.42 L172.68,565.43 L173.46,565.44 L174.23,565.45 L175.01,565.46 L175.78,565.47 L176.56,565.48 L177.33,565.49 L178.11,565.5 L178.88,565.5 L179.66,565.51 L180.43,565.52 L181.21,565.52 L181.98,565.53 L182.76,565.53 L183.53,565.54 L184.31,565.54 L185.08,565.55 L185.85,565.55 L186.63,565.55 L187.4,565.55 L188.18,565.56 L188.95,565.56 L189.72,565.56 L190.5,565.55 L191.27,565.55 L192.05,565.55 L192.82,565.54 L193.6,565.53 L194.37,565.52 L195.14,565.51 L195.92,565.5 L196.69,565.48 L197.47,565.46 L198.24,565.44 L199.02,565.42 L199.79,565.4 L200.57,565.37 L201.35,565.34 L202.12,565.3 L202.9,565.27 L203.68,565.23 L204.45,565.18 L205.23,565.13 L206.01,565.08 L206.79,565.03 L207.57,564.97 L208.34,564.91 L209.12,564.84 L209.9,564.77 L210.68,564.69 L211.46,564.61 L212.25,564.53 L213.03,564.44 L213.81,564.35 L214.59,564.25 L215.38,564.14 L216.16,564.03 L216.95,563.92 L217.73,563.79 L218.51,563.67 L219.29,563.53 L220.07,563.38 L220.84,563.22 L221.61,563.05 L222.37,562.87 L223.13,562.67 L223.87,562.45 L224.6,562.22 L225.33,561.97 L226.04,561.7 L226.74,561.4 L227.42,561.09 L228.09,560.75 L228.74,560.39 L229.38,560 L229.99,559.59 L230.59,559.14 L231.17,558.68 L231.73,558.19 L232.28,557.67 L232.81,557.14 L233.33,556.58 L233.83,556.01 L234.32,555.42 L234.8,554.82 L235.26,554.2 L235.72,553.57 L236.17,552.92 L236.6,552.27 L237.03,551.61 L237.45,550.95 L237.87,550.27 L238.28,549.6 L238.68,548.92 L239.08,548.24 L239.48,547.56 L239.87,546.88 L240.26,546.19 L240.64,545.51 L241.02,544.82 L241.4,544.13 L241.77,543.44 L242.14,542.75 L242.5,542.05 L242.86,541.36 L243.21,540.66 L243.57,539.96 L243.91,539.27 L244.26,538.57 L244.6,537.86 L244.94,537.16 L245.27,536.46 L245.6,535.75 L245.93,535.04 L246.25,534.34 L246.57,533.63 L246.89,532.92 L247.2,532.21 L247.52,531.49 L247.82,530.78 L248.13,530.07 L248.43,529.35 L248.73,528.63 L249.03,527.92 L249.32,527.2 L249.61,526.48 L249.9,525.76 L250.19,525.04 L250.47,524.31 L250.75,523.59 L251.03,522.87 L251.3,522.14 L251.58,521.42 L251.85,520.69 L252.12,519.96 L252.38,519.23 L252.65,518.51 L252.91,517.78 L253.17,517.05 L253.43,516.31 L253.69,515.58 L253.94,514.85 L254.2,514.12 L254.45,513.38 L254.7,512.65 L254.94,511.91 L255.19,511.18 L255.44,510.44 L255.68,509.71 L255.92,508.97 L256.16,508.23 L256.4,507.49 L256.64,506.76 L256.88,506.02 L257.11,505.28 L257.35,504.54 L257.58,503.8 L257.81,503.06 L258.05,502.32 L258.28,501.58 L258.51,500.84 L258.74,500.1 L258.96,499.35 L259.19,498.61 L259.42,497.87 L259.65,497.13 L259.87,496.39 L260.1,495.64 L260.32,494.9 L260.55,494.16 L260.77,493.42 L261,492.67 L261.22,491.93 L261.45,491.19 L261.67,490.45 L261.89,489.7 L262.12,488.96 L262.34,488.22 L262.56,487.47 L262.79,486.73 L263.01,485.99 L263.23,485.24 L263.45,484.5 L263.68,483.76 L263.9,483.01 L264.12,482.27 L264.34,481.53 L264.56,480.79 L264.79,480.04 L265.01,479.3 L265.23,478.56 L265.45,477.81 L265.68,477.07 L265.9,476.33 L266.12,475.58 L266.35,474.84 L266.57,474.1 L266.79,473.35 L267.02,472.61 L267.24,471.87 L267.46,471.12 L267.69,470.38 L267.91,469.64 L268.14,468.89 L268.36,468.15 L268.59,467.41 L268.82,466.67 L269.04,465.92 L269.27,465.18 L269.5,464.44 L269.72,463.7 L269.95,462.96 L270.18,462.21 L270.41,461.47 L270.64,460.73 L270.87,459.99 L271.1,459.25 L271.33,458.5 L271.56,457.76 L271.8,457.02 L272.03,456.28 L272.26,455.54 L272.5,454.8 L272.74,454.06 L272.97,453.32 L273.21,452.58 L273.45,451.84 L273.68,451.1 L273.92,450.36 L274.16,449.62 L274.4,448.88 L274.65,448.14 L274.89,447.4 L275.13,446.66 L275.38,445.92 L275.62,445.19 L275.87,444.45 L276.12,443.71 L276.36,442.97 L276.61,442.23 L276.86,441.5 L277.12,440.76 L277.37,440.02 L277.62,439.29 L277.88,438.55 L278.13,437.81 L278.39,437.08 L278.65,436.34 L278.91,435.61 L279.17,434.87 L279.43,434.14 L279.69,433.41 L279.96,432.67 L280.23,431.94 L280.49,431.21 L280.76,430.48 L281.04,429.75 L281.31,429.02 L281.58,428.29 L281.86,427.56 L282.14,426.83 L282.42,426.11 L282.7,425.38 L282.98,424.65 L283.27,423.93 L283.56,423.21 L283.85,422.49 L284.14,421.76 L284.44,421.04 L284.73,420.33 L285.03,419.61 L285.33,418.89 L285.64,418.18 L285.94,417.46 L286.25,416.75 L286.56,416.04 L286.87,415.33 L287.19,414.62 L287.51,413.91 L287.83,413.2 L288.15,412.5 L288.48,411.8 L288.81,411.1 L289.14,410.4 L289.48,409.7 L289.81,409 L290.15,408.31 L290.5,407.61 L290.84,406.92 L291.19,406.23 L291.55,405.54 L291.9,404.86 L292.26,404.17 L292.63,403.49 L292.99,402.81 L293.36,402.13 L293.73,401.46 L294.11,400.78 L294.49,400.11 L294.87,399.44 L295.26,398.77 L295.65,398.11 L296.04,397.45 L296.44,396.78 L296.84,396.13 L297.25,395.47 L297.65,394.82 L298.07,394.16 L298.48,393.51 L298.9,392.87 L299.33,392.22 L299.76,391.58 L300.19,390.94 L300.63,390.31 L301.07,389.67 L301.51,389.04 L301.96,388.41 L302.41,387.79 L302.87,387.16 L303.33,386.54 L303.8,385.93 L304.27,385.31 L304.75,384.7 L305.23,384.09 L305.71,383.49 L306.2,382.88 L306.69,382.28 L307.19,381.69 L307.69,381.09 L308.19,380.5 L308.7,379.92 L309.21,379.33 L309.73,378.75 L310.25,378.17 L310.77,377.6 L311.3,377.02 L311.83,376.45 L312.37,375.89 L312.91,375.33 L313.45,374.77 L313.99,374.21 L314.54,373.66 L315.1,373.11 L315.65,372.56 L316.22,372.02 L316.78,371.48 L317.35,370.94 L317.92,370.41 L318.49,369.88 L319.07,369.35 L319.65,368.83 L320.23,368.31 L320.82,367.79 L321.41,367.28 L322.01,366.77 L322.6,366.27 L323.2,365.77 L323.81,365.27 L324.41,364.77 L325.02,364.28 L325.63,363.8 L326.25,363.31 L326.87,362.83 L327.49,362.36 L328.11,361.88 L328.74,361.42 L329.36,360.95 L330,360.49 L330.63,360.03 L331.27,359.58 L331.91,359.13 L332.55,358.68 L333.19,358.24 L333.84,357.8 L334.49,357.37 L335.14,356.94 L335.79,356.51 L336.45,356.09 L337.11,355.67 L337.77,355.26 L338.43,354.85 L339.1,354.44 L339.77,354.04 L340.44,353.64 L341.11,353.25 L341.78,352.86 L342.46,352.48 L343.13,352.09 L343.81,351.72 L344.5,351.35 L345.18,350.98 L345.87,350.61 L346.55,350.25 L347.24,349.9 L347.93,349.55 L348.62,349.2 L349.32,348.86 L350.01,348.52 L350.71,348.18 L351.41,347.86 L352.11,347.53 L352.81,347.21 L353.52,346.89 L354.22,346.58 L354.93,346.27 L355.64,345.97 L356.35,345.67 L357.06,345.38 L357.78,345.09 L358.49,344.81 L359.21,344.52 L359.93,344.25 L360.65,343.98 L361.37,343.71 L362.1,343.45 L362.82,343.19 L363.55,342.94 L364.28,342.69 L365.01,342.44 L365.74,342.2 L366.47,341.97 L367.21,341.74 L367.94,341.51 L368.68,341.29 L369.42,341.08 L370.16,340.86 L370.9,340.66 L371.65,340.45 L372.39,340.26 L373.14,340.06 L373.89,339.87 L374.64,339.69 L375.39,339.51 L376.14,339.34 L376.9,339.17 L377.65,339 L378.41,338.84 L379.17,338.69 L379.93,338.54 L380.69,338.39 L381.46,338.25 L382.22,338.11 L382.99,337.98 L383.76,337.86 L384.52,337.73 L385.29,337.62 L386.07,337.5 L386.84,337.4 L387.61,337.29 L388.39,337.2 L389.17,337.1 L389.95,337.02 L390.73,336.93 L391.51,336.86 L392.29,336.78 L393.08,336.72 L393.86,336.65 L394.65,336.59 L395.44,336.54 L396.23,336.49 L397.02,336.45 L397.81,336.41 L398.6,336.38 L399.4,336.35 L400.19,336.33 L400.99,336.31 L401.79,336.3" fill="none" stroke="#6a6a6a" stroke-width="1.8" stroke-dasharray="1.7 2.33"/>
<path d="M69.46,572.51 L70.29,572.48 L71.13,572.45 L71.97,572.42 L72.81,572.39 L73.65,572.37 L74.49,572.35 L75.33,572.32 L76.17,572.3 L77.01,572.29 L77.85,572.27 L78.69,572.25 L79.53,572.24 L80.38,572.23 L81.22,572.22 L82.06,572.21 L82.91,572.2 L83.75,572.19 L84.59,572.18 L85.44,572.18 L86.28,572.17 L87.13,572.17 L87.97,572.17 L88.82,572.17 L89.66,572.17 L90.51,572.17 L91.36,572.17 L92.2,572.17 L93.05,572.18 L93.9,572.18 L94.74,572.18 L95.59,572.19 L96.44,572.19 L97.29,572.2 L98.13,572.21 L98.98,572.21 L99.83,572.22 L100.68,572.23 L101.52,572.24 L102.37,572.24 L103.22,572.25 L104.07,572.26 L104.92,572.27 L105.77,572.28 L106.62,572.29 L107.46,572.3 L108.31,572.31 L109.16,572.31 L110.01,572.32 L110.86,572.33 L111.71,572.34 L112.56,572.35 L113.4,572.35 L114.25,572.36 L115.1,572.37 L115.95,572.37 L116.8,572.38 L117.65,572.38 L118.49,572.39 L119.34,572.39 L120.19,572.39 L121.04,572.4 L121.89,572.4 L122.73,572.4 L123.58,572.4 L124.43,572.4 L125.28,572.4 L126.12,572.39 L126.97,572.39 L127.82,572.38 L128.66,572.38 L129.51,572.37 L130.35,572.36 L131.2,572.35 L132.05,572.34 L132.89,572.33 L133.74,572.32 L134.58,572.3 L135.43,572.28 L136.27,572.27 L137.11,572.25 L137.96,572.23 L138.8,572.2 L139.64,572.18 L140.49,572.16 L141.33,572.13 L142.17,572.1 L143.02,572.07 L143.86,572.04 L144.7,572.01 L145.54,571.98 L146.38,571.95 L147.23,571.92 L148.07,571.88 L148.91,571.85 L149.75,571.81 L150.59,571.77 L151.43,571.73 L152.28,571.69 L153.12,571.65 L153.96,571.61 L154.8,571.57 L155.64,571.53 L156.48,571.48 L157.32,571.44 L158.16,571.4 L159.01,571.35 L159.85,571.3 L160.69,571.26 L161.53,571.21 L162.37,571.16 L163.21,571.11 L164.05,571.06 L164.9,571.01 L165.74,570.96 L166.58,570.91 L167.42,570.86 L168.27,570.81 L169.11,570.76 L169.95,570.71 L170.79,570.66 L171.64,570.6 L172.48,570.55 L173.32,570.5 L174.17,570.44 L175.01,570.39 L175.85,570.34 L176.7,570.28 L177.54,570.23 L178.39,570.18 L179.23,570.12 L180.08,570.07 L180.92,570.02 L181.77,569.96 L182.62,569.91 L183.46,569.85 L184.31,569.8 L185.16,569.75 L186.01,569.69 L186.85,569.64 L187.7,569.59 L188.55,569.54 L189.4,569.48 L190.25,569.43 L191.1,569.38 L191.95,569.33 L192.8,569.28 L193.65,569.23 L194.51,569.18 L195.36,569.13 L196.21,569.08 L197.07,569.03 L197.92,568.98 L198.77,568.93 L199.63,568.88 L200.48,568.83 L201.34,568.78 L202.19,568.72 L203.04,568.67 L203.89,568.61 L204.74,568.54 L205.59,568.48 L206.44,568.41 L207.29,568.33 L208.14,568.25 L208.98,568.16 L209.83,568.07 L210.67,567.97 L211.51,567.87 L212.35,567.76 L213.18,567.64 L214.01,567.51 L214.84,567.38 L215.67,567.24 L216.5,567.08 L217.32,566.92 L218.14,566.75 L218.95,566.57 L219.76,566.38 L220.57,566.17 L221.38,565.96 L222.18,565.73 L222.97,565.49 L223.77,565.24 L224.56,564.97 L225.34,564.69 L226.12,564.4 L226.89,564.09 L227.66,563.77 L228.43,563.44 L229.19,563.09 L229.95,562.72 L230.7,562.35 L231.45,561.96 L232.19,561.56 L232.93,561.15 L233.67,560.73 L234.41,560.31 L235.14,559.88 L235.87,559.44 L236.6,559 L237.33,558.55 L238.06,558.1 L238.78,557.65 L239.51,557.19 L240.23,556.73 L240.96,556.28 L241.68,555.82 L242.41,555.37 L243.13,554.92 L243.86,554.47 L244.59,554.03 L245.31,553.59 L246.04,553.16 L246.78,552.73 L247.51,552.32 L248.25,551.91 L248.99,551.51 L249.73,551.12 L250.48,550.74 L251.23,550.38 L251.99,550.03 L252.74,549.69 L253.51,549.37 L254.28,549.06 L255.05,548.78 L255.83,548.5 L256.61,548.25 L257.4,548.02 L258.19,547.82 L258.99,547.65 L259.79,547.52 L260.59,547.44 L261.4,547.4 L262.2,547.41 L263,547.47 L263.81,547.6 L264.61,547.78 L265.42,548.02 L266.22,548.3 L267.02,548.61 L267.82,548.95 L268.61,549.32 L269.4,549.7 L270.19,550.09 L270.98,550.48 L271.76,550.87 L272.54,551.26 L273.32,551.64 L274.09,552.01 L274.86,552.38 L275.63,552.74 L276.4,553.1 L277.17,553.46 L277.94,553.8 L278.71,554.14 L279.47,554.48 L280.24,554.8 L281.02,555.12 L281.79,555.43 L282.57,555.74 L283.34,556.04 L284.13,556.33 L284.91,556.61 L285.7,556.88 L286.5,557.14 L287.3,557.4 L288.1,557.64 L288.91,557.88 L289.72,558.11 L290.54,558.33 L291.35,558.53 L292.18,558.73 L293,558.92 L293.83,559.1 L294.66,559.27 L295.49,559.43 L296.33,559.58 L297.17,559.72 L298.01,559.85 L298.85,559.97 L299.7,560.08 L300.54,560.18 L301.39,560.26 L302.24,560.34 L303.08,560.4 L303.93,560.46 L304.78,560.5 L305.64,560.53 L306.49,560.55 L307.34,560.55 L308.19,560.55 L309.04,560.53 L309.89,560.5 L310.74,560.46 L311.59,560.41 L312.44,560.34 L313.28,560.26 L314.13,560.17 L314.97,560.07 L315.81,559.95 L316.65,559.82 L317.49,559.68 L318.33,559.52 L319.16,559.35 L319.99,559.17 L320.82,558.98 L321.64,558.77 L322.46,558.55 L323.27,558.32 L324.09,558.08 L324.89,557.82 L325.7,557.55 L326.5,557.27 L327.29,556.97 L328.08,556.67 L328.86,556.35 L329.64,556.02 L330.41,555.68 L331.17,555.33 L331.93,554.96 L332.68,554.58 L333.43,554.19 L334.17,553.79 L334.9,553.38 L335.62,552.96 L336.34,552.52 L337.04,552.07 L337.74,551.61 L338.43,551.14 L339.12,550.66 L339.79,550.17 L340.45,549.67 L341.11,549.15 L341.75,548.62 L342.39,548.09 L343.01,547.54 L343.63,546.98 L344.23,546.41 L344.82,545.83 L345.41,545.24 L345.98,544.64 L346.54,544.03 L347.1,543.41 L347.64,542.78 L348.17,542.14 L348.7,541.49 L349.21,540.83 L349.72,540.17 L350.22,539.5 L350.71,538.82 L351.19,538.13 L351.66,537.43 L352.13,536.73 L352.58,536.02 L353.03,535.31 L353.48,534.58 L353.91,533.86 L354.34,533.12 L354.76,532.39 L355.17,531.64 L355.58,530.89 L355.98,530.14 L356.38,529.38 L356.77,528.62 L357.15,527.86 L357.53,527.09 L357.9,526.32 L358.27,525.54 L358.63,524.76 L358.99,523.98 L359.34,523.2 L359.69,522.42 L360.04,521.63 L360.38,520.84 L360.71,520.05 L361.05,519.26 L361.38,518.47 L361.7,517.68 L362.03,516.89 L362.34,516.1 L362.66,515.31 L362.97,514.51 L363.28,513.72 L363.59,512.92 L363.89,512.13 L364.19,511.33 L364.49,510.54 L364.78,509.74 L365.07,508.94 L365.36,508.14 L365.64,507.34 L365.92,506.54 L366.2,505.74 L366.48,504.94 L366.75,504.14 L367.02,503.33 L367.29,502.53 L367.55,501.73 L367.81,500.92 L368.07,500.12 L368.33,499.31 L368.59,498.51 L368.84,497.7 L369.09,496.9 L369.34,496.09 L369.58,495.28 L369.83,494.47 L370.07,493.66 L370.31,492.85 L370.54,492.04 L370.78,491.23 L371.01,490.42 L371.24,489.61 L371.47,488.8 L371.7,487.99 L371.92,487.18 L372.15,486.36 L372.37,485.55 L372.59,484.74 L372.81,483.92 L373.02,483.11 L373.24,482.29 L373.45,481.48 L373.67,480.66 L373.88,479.84 L374.09,479.03 L374.29,478.21 L374.5,477.39 L374.71,476.58 L374.91,475.76 L375.11,474.94 L375.32,474.12 L375.52,473.3 L375.72,472.49 L375.92,471.67 L376.12,470.85 L376.31,470.03 L376.51,469.21 L376.7,468.39 L376.9,467.57 L377.09,466.75 L377.29,465.92 L377.48,465.1 L377.67,464.28 L377.86,463.46 L378.05,462.64 L378.25,461.82 L378.44,460.99 L378.63,460.17 L378.82,459.35 L379.01,458.53 L379.19,457.7 L379.38,456.88 L379.57,456.06 L379.76,455.23 L379.95,454.41 L380.13,453.59 L380.32,452.76 L380.51,451.94 L380.69,451.11 L380.88,450.29 L381.07,449.47 L381.25,448.64 L381.44,447.82 L381.62,446.99 L381.81,446.17 L381.99,445.34 L382.17,444.52 L382.36,443.69 L382.54,442.86 L382.72,442.04 L382.91,441.21 L383.09,440.39 L383.27,439.56 L383.45,438.73 L383.63,437.91 L383.81,437.08 L383.99,436.25 L384.17,435.43 L384.35,434.6 L384.53,433.77 L384.71,432.95 L384.89,432.12 L385.06,431.29 L385.24,430.46 L385.42,429.64 L385.59,428.81 L385.77,427.98 L385.95,427.15 L386.12,426.32 L386.3,425.49 L386.47,424.67 L386.65,423.84 L386.82,423.01 L386.99,422.18 L387.17,421.35 L387.34,420.52 L387.51,419.69 L387.68,418.86 L387.85,418.03 L388.02,417.2 L388.19,416.37 L388.36,415.54 L388.53,414.72 L388.7,413.89 L388.87,413.06 L389.04,412.22 L389.2,411.39 L389.37,410.56 L389.54,409.73 L389.7,408.9 L389.87,408.07 L390.04,407.24 L390.2,406.41 L390.36,405.58 L390.53,404.75 L390.69,403.92 L390.85,403.09 L391.02,402.26 L391.18,401.42 L391.34,400.59 L391.5,399.76 L391.66,398.93 L391.82,398.1 L391.98,397.27 L392.14,396.43 L392.3,395.6 L392.46,394.77 L392.61,393.94 L392.77,393.11 L392.93,392.27 L393.08,391.44 L393.24,390.61 L393.39,389.78 L393.55,388.94 L393.7,388.11 L393.85,387.28 L394.01,386.45 L394.16,385.61 L394.31,384.78 L394.46,383.95 L394.61,383.12 L394.76,382.28 L394.91,381.45 L395.06,380.62 L395.21,379.78 L395.35,378.95 L395.5,378.12 L395.65,377.28 L395.79,376.45 L395.94,375.62 L396.08,374.78 L396.23,373.95 L396.37,373.12 L396.52,372.28 L396.66,371.45 L396.8,370.62 L396.94,369.78 L397.08,368.95 L397.22,368.12 L397.36,367.28 L397.5,366.45 L397.64,365.61 L397.78,364.78 L397.91,363.95 L398.05,363.11 L398.19,362.28 L398.32,361.44 L398.46,360.61 L398.59,359.78 L398.72,358.94 L398.86,358.11 L398.99,357.27 L399.12,356.44 L399.25,355.61 L399.38,354.77 L399.51,353.94 L399.64,353.1 L399.77,352.27 L399.9,351.44 L400.02,350.6 L400.15,349.77 L400.28,348.93 L400.4,348.1 L400.53,347.26 L400.65,346.43 L400.77,345.6 L400.9,344.76 L401.02,343.93 L401.14,343.09 L401.26,342.26 L401.38,341.42 L401.5,340.59 L401.62,339.76 L401.74,338.92 L401.85,338.09 L401.97,337.25 L402.09,336.42 L402.2,335.58" fill="none" stroke="#2a2a2a" stroke-width="1.45" stroke-linejoin="round" stroke-linecap="round"/>
<line x1="73.8" y1="553.6" x2="93.2" y2="553.6" stroke="#111" stroke-width="1.7"/>
<path d="M99.2,553.6 L92.2,550.3 L92.9,553.6 L92.2,556.9 Z" fill="#111"/>
<rect x="47.7" y="636.6" width="367.7" height="270.2" fill="none" stroke="#252525" stroke-width="1.5"/>
<line x1="69.9" y1="906.8" x2="69.9" y2="901.2" stroke="#252525" stroke-width="1.5"/>
<line x1="69.9" y1="636.6" x2="69.9" y2="642.2" stroke="#252525" stroke-width="1.5"/>
<text x="69.9" y="921.3" font-size="10.5" text-anchor="middle" >0.0</text>
<line x1="94.78" y1="906.8" x2="94.78" y2="903.9" stroke="#252525" stroke-width="1.5"/>
<line x1="94.78" y1="636.6" x2="94.78" y2="639.5" stroke="#252525" stroke-width="1.5"/>
<line x1="119.66" y1="906.8" x2="119.66" y2="903.9" stroke="#252525" stroke-width="1.5"/>
<line x1="119.66" y1="636.6" x2="119.66" y2="639.5" stroke="#252525" stroke-width="1.5"/>
<line x1="144.54" y1="906.8" x2="144.54" y2="903.9" stroke="#252525" stroke-width="1.5"/>
<line x1="144.54" y1="636.6" x2="144.54" y2="639.5" stroke="#252525" stroke-width="1.5"/>
<line x1="169.42" y1="906.8" x2="169.42" y2="903.9" stroke="#252525" stroke-width="1.5"/>
<line x1="169.42" y1="636.6" x2="169.42" y2="639.5" stroke="#252525" stroke-width="1.5"/>
<line x1="194.3" y1="906.8" x2="194.3" y2="901.2" stroke="#252525" stroke-width="1.5"/>
<line x1="194.3" y1="636.6" x2="194.3" y2="642.2" stroke="#252525" stroke-width="1.5"/>
<text x="194.3" y="921.3" font-size="10.5" text-anchor="middle" >-0.5</text>
<line x1="219.18" y1="906.8" x2="219.18" y2="903.9" stroke="#252525" stroke-width="1.5"/>
<line x1="219.18" y1="636.6" x2="219.18" y2="639.5" stroke="#252525" stroke-width="1.5"/>
<line x1="244.06" y1="906.8" x2="244.06" y2="903.9" stroke="#252525" stroke-width="1.5"/>
<line x1="244.06" y1="636.6" x2="244.06" y2="639.5" stroke="#252525" stroke-width="1.5"/>
<line x1="268.94" y1="906.8" x2="268.94" y2="903.9" stroke="#252525" stroke-width="1.5"/>
<line x1="268.94" y1="636.6" x2="268.94" y2="639.5" stroke="#252525" stroke-width="1.5"/>
<line x1="293.82" y1="906.8" x2="293.82" y2="903.9" stroke="#252525" stroke-width="1.5"/>
<line x1="293.82" y1="636.6" x2="293.82" y2="639.5" stroke="#252525" stroke-width="1.5"/>
<line x1="318.7" y1="906.8" x2="318.7" y2="901.2" stroke="#252525" stroke-width="1.5"/>
<line x1="318.7" y1="636.6" x2="318.7" y2="642.2" stroke="#252525" stroke-width="1.5"/>
<text x="318.7" y="921.3" font-size="10.5" text-anchor="middle" >-1.0</text>
<line x1="343.58" y1="906.8" x2="343.58" y2="903.9" stroke="#252525" stroke-width="1.5"/>
<line x1="343.58" y1="636.6" x2="343.58" y2="639.5" stroke="#252525" stroke-width="1.5"/>
<line x1="368.46" y1="906.8" x2="368.46" y2="903.9" stroke="#252525" stroke-width="1.5"/>
<line x1="368.46" y1="636.6" x2="368.46" y2="639.5" stroke="#252525" stroke-width="1.5"/>
<line x1="393.34" y1="906.8" x2="393.34" y2="903.9" stroke="#252525" stroke-width="1.5"/>
<line x1="393.34" y1="636.6" x2="393.34" y2="639.5" stroke="#252525" stroke-width="1.5"/>
<line x1="47.7" y1="884.5" x2="53.7" y2="884.5" stroke="#252525" stroke-width="1.5"/>
<text x="41" y="887.5" font-size="10.5" text-anchor="end" >0</text>
<line x1="47.7" y1="862.3" x2="50.9" y2="862.3" stroke="#252525" stroke-width="1.5"/>
<line x1="47.7" y1="840.1" x2="50.9" y2="840.1" stroke="#252525" stroke-width="1.5"/>
<line x1="47.7" y1="817.9" x2="50.9" y2="817.9" stroke="#252525" stroke-width="1.5"/>
<line x1="47.7" y1="795.7" x2="53.7" y2="795.7" stroke="#252525" stroke-width="1.5"/>
<text x="41" y="798.7" font-size="10.5" text-anchor="end" >2000</text>
<line x1="47.7" y1="773.5" x2="50.9" y2="773.5" stroke="#252525" stroke-width="1.5"/>
<line x1="47.7" y1="751.3" x2="50.9" y2="751.3" stroke="#252525" stroke-width="1.5"/>
<line x1="47.7" y1="729.1" x2="50.9" y2="729.1" stroke="#252525" stroke-width="1.5"/>
<line x1="47.7" y1="706.9" x2="53.7" y2="706.9" stroke="#252525" stroke-width="1.5"/>
<text x="41" y="709.9" font-size="10.5" text-anchor="end" >4000</text>
<line x1="47.7" y1="684.7" x2="50.9" y2="684.7" stroke="#252525" stroke-width="1.5"/>
<line x1="47.7" y1="662.5" x2="50.9" y2="662.5" stroke="#252525" stroke-width="1.5"/>
<line x1="47.7" y1="640.3" x2="50.9" y2="640.3" stroke="#252525" stroke-width="1.5"/>
<line x1="415.4" y1="894.01" x2="412.2" y2="894.01" stroke="#252525" stroke-width="1.5"/>
<line x1="415.4" y1="881.52" x2="412.2" y2="881.52" stroke="#252525" stroke-width="1.5"/>
<line x1="415.4" y1="869.03" x2="412.2" y2="869.03" stroke="#252525" stroke-width="1.5"/>
<line x1="415.4" y1="856.54" x2="412.2" y2="856.54" stroke="#252525" stroke-width="1.5"/>
<line x1="415.4" y1="844.05" x2="409.4" y2="844.05" stroke="#252525" stroke-width="1.5"/>
<text x="422.6" y="847.05" font-size="10.5" text-anchor="start" >-15000</text>
<line x1="415.4" y1="831.56" x2="412.2" y2="831.56" stroke="#252525" stroke-width="1.5"/>
<line x1="415.4" y1="819.07" x2="412.2" y2="819.07" stroke="#252525" stroke-width="1.5"/>
<line x1="415.4" y1="806.58" x2="412.2" y2="806.58" stroke="#252525" stroke-width="1.5"/>
<line x1="415.4" y1="794.09" x2="412.2" y2="794.09" stroke="#252525" stroke-width="1.5"/>
<line x1="415.4" y1="781.6" x2="409.4" y2="781.6" stroke="#252525" stroke-width="1.5"/>
<text x="422.6" y="784.6" font-size="10.5" text-anchor="start" >-10000</text>
<line x1="415.4" y1="769.11" x2="412.2" y2="769.11" stroke="#252525" stroke-width="1.5"/>
<line x1="415.4" y1="756.62" x2="412.2" y2="756.62" stroke="#252525" stroke-width="1.5"/>
<line x1="415.4" y1="744.13" x2="412.2" y2="744.13" stroke="#252525" stroke-width="1.5"/>
<line x1="415.4" y1="731.64" x2="412.2" y2="731.64" stroke="#252525" stroke-width="1.5"/>
<line x1="415.4" y1="719.15" x2="409.4" y2="719.15" stroke="#252525" stroke-width="1.5"/>
<text x="422.6" y="722.15" font-size="10.5" text-anchor="start" >-5000</text>
<line x1="415.4" y1="706.66" x2="412.2" y2="706.66" stroke="#252525" stroke-width="1.5"/>
<line x1="415.4" y1="694.17" x2="412.2" y2="694.17" stroke="#252525" stroke-width="1.5"/>
<line x1="415.4" y1="681.68" x2="412.2" y2="681.68" stroke="#252525" stroke-width="1.5"/>
<line x1="415.4" y1="669.19" x2="412.2" y2="669.19" stroke="#252525" stroke-width="1.5"/>
<line x1="415.4" y1="656.7" x2="409.4" y2="656.7" stroke="#252525" stroke-width="1.5"/>
<text x="422.6" y="659.7" font-size="10.5" text-anchor="start" >0</text>
<line x1="415.4" y1="644.21" x2="412.2" y2="644.21" stroke="#252525" stroke-width="1.5"/>
<text x="0" y="0" font-size="13.5" text-anchor="middle" transform="translate(11.7,775.4) rotate(-90)">Current, µA</text>
<g transform="translate(458.4,753.6) rotate(90)"><text x="0" y="0" font-size="13">Δ</text><text x="0" y="0" font-size="14" font-style="italic" transform="translate(12.9,0) skewX(-22)">f</text><text x="18.2" y="0" font-size="13">,</text><text x="26.5" y="0" font-size="13">Hz</text></g>
<text x="123.4" y="940.9" font-size="13.37" text-anchor="start" >Potential, V vs. Ag/AgCl in 3 M NaCl</text>
<text x="65.2" y="691.2" font-size="21.0" text-anchor="start" style="stroke-width:0.05px">(C)</text>
<path d="M69.91,655.94 L70.68,655.94 L71.45,655.95 L72.22,655.95 L72.99,655.96 L73.76,655.96 L74.53,655.97 L75.3,655.97 L76.07,655.98 L76.84,655.98 L77.61,655.98 L78.38,655.99 L79.15,655.99 L79.92,655.99 L80.69,655.99 L81.46,656 L82.23,656 L83,656 L83.77,656 L84.54,656 L85.31,656 L86.08,656 L86.85,656 L87.62,656 L88.39,656 L89.16,656 L89.93,656 L90.7,656 L91.48,656 L92.25,656 L93.02,655.99 L93.79,655.99 L94.56,655.99 L95.33,655.99 L96.1,655.99 L96.87,655.98 L97.64,655.98 L98.41,655.98 L99.18,655.98 L99.95,655.97 L100.72,655.97 L101.49,655.97 L102.27,655.96 L103.04,655.96 L103.81,655.96 L104.58,655.95 L105.35,655.95 L106.12,655.95 L106.89,655.94 L107.66,655.94 L108.43,655.93 L109.2,655.93 L109.98,655.93 L110.75,655.92 L111.52,655.92 L112.29,655.91 L113.06,655.91 L113.83,655.91 L114.6,655.9 L115.37,655.9 L116.14,655.89 L116.91,655.89 L117.69,655.89 L118.46,655.88 L119.23,655.88 L120,655.88 L120.77,655.87 L121.54,655.87 L122.31,655.86 L123.08,655.86 L123.85,655.86 L124.62,655.85 L125.4,655.85 L126.17,655.85 L126.94,655.85 L127.71,655.84 L128.48,655.84 L129.25,655.84 L130.02,655.83 L130.79,655.83 L131.56,655.83 L132.34,655.83 L133.11,655.83 L133.88,655.83 L134.65,655.82 L135.42,655.82 L136.19,655.82 L136.96,655.82 L137.73,655.82 L138.5,655.82 L139.27,655.82 L140.05,655.82 L140.82,655.82 L141.59,655.82 L142.36,655.82 L143.13,655.82 L143.9,655.82 L144.67,655.82 L145.44,655.83 L146.21,655.83 L146.98,655.83 L147.75,655.83 L148.52,655.84 L149.3,655.84 L150.07,655.84 L150.84,655.85 L151.61,655.85 L152.38,655.86 L153.15,655.86 L153.92,655.87 L154.69,655.87 L155.46,655.88 L156.23,655.89 L157,655.89 L157.77,655.9 L158.54,655.91 L159.31,655.92 L160.08,655.92 L160.85,655.93 L161.62,655.94 L162.4,655.95 L163.17,655.96 L163.94,655.97 L164.71,655.98 L165.48,655.99 L166.25,656.01 L167.02,656.02 L167.79,656.03 L168.56,656.04 L169.33,656.06 L170.1,656.07 L170.87,656.09 L171.64,656.1 L172.41,656.12 L173.18,656.14 L173.95,656.15 L174.72,656.17 L175.49,656.19 L176.26,656.21 L177.03,656.22 L177.8,656.24 L178.57,656.26 L179.34,656.29 L180.1,656.31 L180.87,656.33 L181.64,656.35 L182.41,656.37 L183.18,656.4 L183.95,656.42 L184.72,656.45 L185.49,656.47 L186.26,656.5 L187.03,656.53 L187.8,656.55 L188.57,656.58 L189.34,656.61 L190.11,656.64 L190.87,656.67 L191.64,656.7 L192.41,656.73 L193.18,656.77 L193.95,656.8 L194.72,656.83 L195.49,656.87 L196.26,656.9 L197.02,656.94 L197.79,656.97 L198.56,657.01 L199.33,657.05 L200.1,657.09 L200.87,657.13 L201.64,657.17 L202.41,657.21 L203.17,657.25 L203.94,657.3 L204.71,657.34 L205.48,657.39 L206.25,657.43 L207.02,657.48 L207.79,657.53 L208.56,657.57 L209.32,657.62 L210.09,657.67 L210.86,657.72 L211.63,657.78 L212.4,657.83 L213.17,657.88 L213.94,657.94 L214.71,657.99 L215.47,658.05 L216.24,658.11 L217.01,658.17 L217.78,658.22 L218.55,658.29 L219.32,658.35 L220.09,658.41 L220.86,658.47 L221.63,658.54 L222.4,658.6 L223.17,658.67 L223.94,658.74 L224.71,658.81 L225.47,658.88 L226.24,658.95 L227.01,659.02 L227.78,659.09 L228.55,659.17 L229.32,659.24 L230.09,659.32 L230.86,659.39 L231.63,659.47 L232.4,659.55 L233.17,659.63 L233.94,659.72 L234.71,659.8 L235.49,659.88 L236.26,659.97 L237.03,660.06 L237.8,660.14 L238.57,660.23 L239.34,660.32 L240.11,660.41 L240.88,660.51 L241.65,660.6 L242.42,660.7 L243.2,660.79 L243.97,660.89 L244.74,660.99 L245.51,661.09 L246.28,661.19 L247.05,661.3 L247.83,661.4 L248.6,661.51 L249.37,661.62 L250.14,661.73 L250.91,661.85 L251.67,661.97 L252.44,662.1 L253.21,662.22 L253.97,662.36 L254.73,662.49 L255.49,662.64 L256.25,662.79 L257.01,662.94 L257.76,663.1 L258.52,663.27 L259.26,663.44 L260.01,663.62 L260.76,663.81 L261.5,664 L262.23,664.2 L262.97,664.41 L263.7,664.63 L264.43,664.86 L265.15,665.09 L265.87,665.34 L266.58,665.59 L267.29,665.85 L268,666.12 L268.7,666.4 L269.4,666.68 L270.09,666.98 L270.78,667.29 L271.46,667.61 L272.14,667.94 L272.81,668.27 L273.47,668.62 L274.13,668.98 L274.79,669.35 L275.44,669.73 L276.08,670.12 L276.72,670.51 L277.35,670.92 L277.98,671.34 L278.6,671.76 L279.21,672.2 L279.83,672.64 L280.43,673.09 L281.03,673.55 L281.63,674.01 L282.22,674.49 L282.8,674.97 L283.38,675.46 L283.96,675.96 L284.53,676.46 L285.09,676.97 L285.65,677.49 L286.21,678.01 L286.76,678.55 L287.31,679.08 L287.85,679.63 L288.38,680.17 L288.91,680.73 L289.44,681.29 L289.96,681.86 L290.48,682.43 L290.99,683 L291.5,683.58 L292,684.17 L292.5,684.76 L292.99,685.35 L293.48,685.95 L293.96,686.56 L294.44,687.16 L294.92,687.77 L295.39,688.39 L295.86,689 L296.32,689.62 L296.78,690.25 L297.24,690.88 L297.69,691.51 L298.14,692.14 L298.59,692.78 L299.03,693.41 L299.47,694.06 L299.9,694.7 L300.34,695.35 L300.77,695.99 L301.2,696.64 L301.62,697.3 L302.04,697.95 L302.46,698.61 L302.88,699.26 L303.3,699.92 L303.71,700.58 L304.12,701.25 L304.53,701.91 L304.94,702.57 L305.35,703.24 L305.75,703.9 L306.16,704.57 L306.56,705.24 L306.96,705.91 L307.36,706.57 L307.76,707.24 L308.16,707.91 L308.55,708.58 L308.95,709.25 L309.35,709.92 L309.74,710.58 L310.14,711.25 L310.54,711.92 L310.93,712.58 L311.33,713.25 L311.72,713.92 L312.11,714.58 L312.51,715.25 L312.9,715.91 L313.29,716.57 L313.69,717.24 L314.08,717.9 L314.47,718.56 L314.86,719.23 L315.25,719.89 L315.64,720.55 L316.03,721.22 L316.42,721.88 L316.8,722.54 L317.19,723.21 L317.57,723.87 L317.96,724.54 L318.34,725.2 L318.72,725.87 L319.1,726.53 L319.48,727.2 L319.86,727.86 L320.24,728.53 L320.61,729.2 L320.98,729.87 L321.36,730.54 L321.73,731.21 L322.1,731.88 L322.47,732.55 L322.83,733.22 L323.2,733.89 L323.56,734.57 L323.92,735.24 L324.28,735.92 L324.64,736.6 L325,737.27 L325.35,737.95 L325.71,738.63 L326.06,739.32 L326.41,740 L326.76,740.68 L327.1,741.37 L327.45,742.05 L327.79,742.74 L328.13,743.42 L328.47,744.11 L328.81,744.8 L329.15,745.49 L329.48,746.18 L329.82,746.87 L330.15,747.57 L330.48,748.26 L330.81,748.95 L331.14,749.65 L331.47,750.34 L331.8,751.04 L332.12,751.74 L332.44,752.44 L332.77,753.13 L333.09,753.83 L333.41,754.53 L333.73,755.23 L334.04,755.94 L334.36,756.64 L334.68,757.34 L334.99,758.04 L335.3,758.75 L335.62,759.45 L335.93,760.16 L336.24,760.86 L336.55,761.57 L336.86,762.28 L337.16,762.98 L337.47,763.69 L337.78,764.4 L338.08,765.11 L338.38,765.82 L338.69,766.53 L338.99,767.24 L339.29,767.95 L339.59,768.66 L339.89,769.37 L340.19,770.08 L340.49,770.79 L340.79,771.5 L341.09,772.22 L341.38,772.93 L341.68,773.64 L341.98,774.36 L342.27,775.07 L342.56,775.78 L342.86,776.5 L343.15,777.21 L343.45,777.93 L343.74,778.64 L344.03,779.36 L344.32,780.07 L344.61,780.79 L344.9,781.5 L345.2,782.22 L345.49,782.93 L345.78,783.65 L346.07,784.36 L346.36,785.08 L346.64,785.79 L346.93,786.51 L347.22,787.23 L347.51,787.94 L347.8,788.66 L348.09,789.37 L348.38,790.09 L348.67,790.8 L348.95,791.52 L349.24,792.23 L349.53,792.95 L349.82,793.66 L350.11,794.38 L350.39,795.1 L350.68,795.81 L350.97,796.53 L351.26,797.24 L351.55,797.96 L351.83,798.67 L352.12,799.39 L352.41,800.1 L352.7,800.81 L352.99,801.53 L353.28,802.24 L353.57,802.96 L353.85,803.67 L354.14,804.39 L354.43,805.1 L354.72,805.81 L355.01,806.53 L355.3,807.24 L355.59,807.95 L355.88,808.67 L356.17,809.38 L356.47,810.09 L356.76,810.81 L357.05,811.52 L357.34,812.23 L357.63,812.94 L357.93,813.66 L358.22,814.37 L358.51,815.08 L358.81,815.79 L359.1,816.5 L359.4,817.21 L359.69,817.92 L359.99,818.64 L360.28,819.35 L360.58,820.06 L360.88,820.77 L361.17,821.48 L361.47,822.19 L361.77,822.9 L362.07,823.6 L362.37,824.31 L362.67,825.02 L362.97,825.73 L363.27,826.44 L363.58,827.15 L363.88,827.85 L364.18,828.56 L364.49,829.27 L364.79,829.98 L365.1,830.68 L365.4,831.39 L365.71,832.09 L366.02,832.8 L366.33,833.51 L366.64,834.21 L366.95,834.92 L367.26,835.62 L367.57,836.32 L367.88,837.03 L368.2,837.73 L368.51,838.43 L368.83,839.14 L369.14,839.84 L369.46,840.54 L369.78,841.24 L370.1,841.95 L370.42,842.65 L370.74,843.35 L371.06,844.05 L371.38,844.75 L371.71,845.45 L372.03,846.15 L372.36,846.85 L372.68,847.55 L373.01,848.24 L373.33,848.94 L373.66,849.64 L373.99,850.34 L374.31,851.04 L374.64,851.74 L374.97,852.44 L375.3,853.13 L375.63,853.83 L375.95,854.53 L376.28,855.23 L376.61,855.92 L376.94,856.62 L377.27,857.32 L377.6,858.02 L377.93,858.72 L378.26,859.41 L378.59,860.11 L378.91,860.81 L379.24,861.51 L379.57,862.21 L379.9,862.9 L380.22,863.6 L380.55,864.3 L380.88,865 L381.2,865.7 L381.53,866.4 L381.85,867.1 L382.18,867.8 L382.5,868.5 L382.82,869.2 L383.15,869.9 L383.47,870.6 L383.79,871.3 L384.11,872 L384.43,872.7 L384.74,873.41 L385.06,874.11 L385.38,874.81 L385.69,875.51 L386,876.22 L386.32,876.92 L386.63,877.63 L386.94,878.33 L387.25,879.04 L387.55,879.74 L387.86,880.45 L388.16,881.16 L388.47,881.87 L388.77,882.58 L389.07,883.28 L389.37,883.99 L389.66,884.7 L389.96,885.42 L390.25,886.13 L390.54,886.84 L390.83,887.55 L391.12,888.27 L391.41,888.98 L391.69,889.7 L391.98,890.41 L392.26,891.13 L392.53,891.85 L392.81,892.56" fill="none" stroke="#6a6a6a" stroke-width="1.8" stroke-dasharray="1.7 2.33"/>
<path d="M69.9,884.89 L70.68,884.87 L71.46,884.85 L72.23,884.83 L73.01,884.81 L73.78,884.79 L74.56,884.78 L75.34,884.76 L76.11,884.75 L76.89,884.73 L77.67,884.72 L78.44,884.71 L79.22,884.7 L80,884.69 L80.77,884.68 L81.55,884.67 L82.33,884.66 L83.1,884.66 L83.88,884.65 L84.66,884.65 L85.44,884.64 L86.21,884.64 L86.99,884.63 L87.77,884.63 L88.54,884.63 L89.32,884.62 L90.1,884.62 L90.87,884.62 L91.65,884.62 L92.43,884.62 L93.2,884.62 L93.98,884.62 L94.76,884.62 L95.53,884.62 L96.31,884.62 L97.09,884.62 L97.87,884.62 L98.64,884.62 L99.42,884.62 L100.2,884.62 L100.97,884.62 L101.75,884.62 L102.53,884.62 L103.3,884.62 L104.08,884.62 L104.86,884.62 L105.64,884.61 L106.41,884.61 L107.19,884.61 L107.97,884.61 L108.74,884.61 L109.52,884.61 L110.3,884.6 L111.07,884.6 L111.85,884.59 L112.63,884.59 L113.4,884.58 L114.18,884.58 L114.96,884.57 L115.73,884.57 L116.51,884.56 L117.29,884.55 L118.06,884.54 L118.84,884.53 L119.62,884.52 L120.39,884.51 L121.17,884.5 L121.95,884.48 L122.72,884.47 L123.5,884.45 L124.28,884.44 L125.05,884.42 L125.83,884.4 L126.61,884.38 L127.38,884.36 L128.16,884.34 L128.94,884.31 L129.71,884.29 L130.49,884.26 L131.27,884.24 L132.04,884.21 L132.82,884.18 L133.59,884.15 L134.37,884.12 L135.15,884.09 L135.92,884.06 L136.7,884.03 L137.47,884 L138.25,883.97 L139.03,883.94 L139.8,883.9 L140.58,883.87 L141.36,883.84 L142.13,883.81 L142.91,883.78 L143.68,883.75 L144.46,883.72 L145.24,883.69 L146.01,883.66 L146.79,883.63 L147.57,883.6 L148.34,883.58 L149.12,883.55 L149.89,883.53 L150.67,883.5 L151.45,883.48 L152.22,883.46 L153,883.44 L153.78,883.42 L154.55,883.41 L155.33,883.39 L156.11,883.38 L156.88,883.37 L157.66,883.36 L158.44,883.35 L159.21,883.35 L159.99,883.35 L160.77,883.34 L161.55,883.34 L162.32,883.34 L163.1,883.33 L163.88,883.32 L164.65,883.31 L165.43,883.29 L166.21,883.27 L166.98,883.24 L167.76,883.2 L168.53,883.15 L169.31,883.1 L170.08,883.03 L170.86,882.96 L171.63,882.87 L172.41,882.77 L173.18,882.65 L173.95,882.53 L174.73,882.39 L175.5,882.25 L176.27,882.1 L177.03,881.96 L177.8,881.81 L178.56,881.67 L179.32,881.54 L180.08,881.42 L180.84,881.31 L181.59,881.21 L182.34,881.14 L183.09,881.07 L183.84,881.03 L184.58,880.99 L185.33,880.98 L186.08,880.97 L186.83,880.99 L187.59,881.01 L188.35,881.05 L189.11,881.1 L189.87,881.17 L190.63,881.24 L191.39,881.31 L192.16,881.4 L192.93,881.49 L193.7,881.58 L194.47,881.67 L195.24,881.77 L196.01,881.86 L196.79,881.95 L197.56,882.04 L198.33,882.13 L199.11,882.2 L199.88,882.27 L200.66,882.34 L201.43,882.39 L202.21,882.43 L202.98,882.45 L203.75,882.47 L204.53,882.47 L205.3,882.46 L206.07,882.44 L206.84,882.42 L207.62,882.38 L208.39,882.34 L209.16,882.29 L209.94,882.24 L210.71,882.19 L211.49,882.13 L212.26,882.07 L213.04,882.01 L213.82,881.95 L214.59,881.89 L215.37,881.84 L216.16,881.78 L216.94,881.74 L217.72,881.69 L218.51,881.65 L219.29,881.61 L220.07,881.57 L220.86,881.52 L221.64,881.48 L222.42,881.43 L223.2,881.37 L223.98,881.31 L224.75,881.23 L225.52,881.15 L226.29,881.06 L227.05,880.95 L227.81,880.83 L228.57,880.69 L229.32,880.54 L230.06,880.36 L230.8,880.17 L231.53,879.96 L232.25,879.72 L232.97,879.47 L233.69,879.2 L234.4,878.92 L235.1,878.62 L235.8,878.3 L236.5,877.98 L237.2,877.64 L237.89,877.29 L238.58,876.93 L239.27,876.56 L239.96,876.19 L240.64,875.81 L241.33,875.42 L242.01,875.03 L242.7,874.63 L243.38,874.24 L244.07,873.84 L244.75,873.44 L245.44,873.03 L246.12,872.63 L246.79,872.21 L247.46,871.79 L248.12,871.36 L248.77,870.93 L249.42,870.48 L250.05,870.03 L250.67,869.56 L251.27,869.08 L251.86,868.59 L252.43,868.09 L252.99,867.57 L253.52,867.03 L254.04,866.48 L254.53,865.91 L255,865.32 L255.45,864.71 L255.87,864.08 L256.26,863.43 L256.63,862.77 L256.98,862.08 L257.31,861.38 L257.63,860.67 L257.93,859.95 L258.23,859.22 L258.51,858.48 L258.79,857.74 L259.06,856.99 L259.34,856.24 L259.61,855.49 L259.89,854.74 L260.17,854 L260.47,853.26 L260.77,852.53 L261.09,851.81 L261.43,851.1 L261.78,850.4 L262.14,849.71 L262.52,849.03 L262.92,848.37 L263.32,847.7 L263.73,847.05 L264.15,846.4 L264.58,845.76 L265.01,845.12 L265.45,844.48 L265.88,843.85 L266.32,843.21 L266.76,842.57 L267.19,841.94 L267.62,841.3 L268.04,840.66 L268.46,840.01 L268.86,839.36 L269.26,838.7 L269.65,838.03 L270.03,837.36 L270.4,836.69 L270.76,836.01 L271.11,835.32 L271.46,834.63 L271.8,833.94 L272.14,833.24 L272.47,832.54 L272.79,831.84 L273.11,831.13 L273.43,830.42 L273.75,829.71 L274.06,829 L274.37,828.29 L274.68,827.57 L274.98,826.86 L275.29,826.14 L275.59,825.43 L275.9,824.71 L276.2,824 L276.51,823.28 L276.81,822.57 L277.11,821.85 L277.42,821.13 L277.72,820.42 L278.02,819.7 L278.32,818.98 L278.62,818.27 L278.92,817.55 L279.22,816.83 L279.52,816.12 L279.82,815.4 L280.12,814.68 L280.42,813.96 L280.72,813.25 L281.02,812.53 L281.32,811.81 L281.62,811.09 L281.92,810.38 L282.21,809.66 L282.51,808.94 L282.81,808.22 L283.11,807.51 L283.41,806.79 L283.7,806.07 L284,805.35 L284.3,804.63 L284.6,803.92 L284.89,803.2 L285.19,802.48 L285.49,801.76 L285.79,801.05 L286.09,800.33 L286.38,799.61 L286.68,798.89 L286.98,798.18 L287.28,797.46 L287.58,796.74 L287.88,796.03 L288.18,795.31 L288.48,794.59 L288.78,793.88 L289.08,793.16 L289.38,792.44 L289.68,791.73 L289.98,791.01 L290.28,790.3 L290.58,789.58 L290.89,788.86 L291.19,788.15 L291.49,787.44 L291.8,786.72 L292.1,786.01 L292.41,785.29 L292.71,784.58 L293.02,783.86 L293.32,783.15 L293.63,782.44 L293.94,781.73 L294.25,781.01 L294.56,780.3 L294.87,779.59 L295.18,778.88 L295.49,778.17 L295.8,777.46 L296.11,776.75 L296.42,776.04 L296.74,775.33 L297.05,774.62 L297.37,773.91 L297.69,773.2 L298,772.49 L298.32,771.78 L298.64,771.08 L298.96,770.37 L299.28,769.66 L299.6,768.96 L299.92,768.25 L300.25,767.54 L300.57,766.84 L300.9,766.13 L301.22,765.43 L301.55,764.72 L301.87,764.02 L302.2,763.32 L302.53,762.61 L302.86,761.91 L303.19,761.21 L303.52,760.51 L303.85,759.8 L304.18,759.1 L304.51,758.4 L304.85,757.7 L305.18,757 L305.51,756.3 L305.85,755.6 L306.18,754.9 L306.52,754.2 L306.85,753.5 L307.19,752.8 L307.53,752.1 L307.87,751.4 L308.21,750.7 L308.54,750 L308.88,749.3 L309.22,748.61 L309.56,747.91 L309.9,747.21 L310.25,746.51 L310.59,745.81 L310.93,745.12 L311.27,744.42 L311.62,743.72 L311.96,743.03 L312.3,742.33 L312.65,741.63 L312.99,740.94 L313.34,740.24 L313.68,739.54 L314.03,738.85 L314.37,738.15 L314.72,737.45 L315.06,736.76 L315.41,736.06 L315.76,735.37 L316.1,734.67 L316.45,733.98 L316.8,733.28 L317.15,732.59 L317.49,731.89 L317.84,731.19 L318.19,730.5 L318.54,729.8 L318.89,729.11 L319.24,728.41 L319.59,727.72 L319.94,727.02 L320.28,726.33 L320.63,725.63 L320.98,724.94 L321.33,724.24 L321.68,723.55 L322.03,722.85 L322.38,722.16 L322.73,721.46 L323.08,720.77 L323.43,720.07 L323.78,719.37 L324.13,718.68 L324.48,717.98 L324.83,717.29 L325.18,716.59 L325.53,715.9 L325.88,715.2 L326.23,714.51 L326.59,713.81 L326.94,713.12 L327.29,712.43 L327.65,711.74 L328,711.04 L328.36,710.35 L328.71,709.66 L329.07,708.97 L329.43,708.28 L329.79,707.59 L330.15,706.91 L330.51,706.22 L330.87,705.53 L331.24,704.85 L331.6,704.17 L331.97,703.48 L332.34,702.8 L332.71,702.12 L333.08,701.44 L333.45,700.76 L333.82,700.09 L334.2,699.41 L334.58,698.74 L334.96,698.07 L335.34,697.4 L335.72,696.73 L336.11,696.06 L336.5,695.4 L336.89,694.74 L337.28,694.07 L337.67,693.41 L338.07,692.76 L338.47,692.1 L338.87,691.44 L339.27,690.79 L339.67,690.13 L340.07,689.48 L340.48,688.82 L340.88,688.16 L341.29,687.5 L341.7,686.84 L342.11,686.17 L342.51,685.51 L342.92,684.84 L343.33,684.16 L343.73,683.48 L344.14,682.8 L344.54,682.11 L344.94,681.41 L345.35,680.71 L345.75,680.01 L346.16,679.31 L346.57,678.61 L346.98,677.93 L347.41,677.25 L347.84,676.58 L348.29,675.93 L348.75,675.3 L349.22,674.69 L349.71,674.1 L350.22,673.54 L350.75,673.02 L351.3,672.52 L351.88,672.07 L352.48,671.65 L353.1,671.27 L353.76,670.94 L354.44,670.67 L355.13,670.46 L355.83,670.34 L356.52,670.32 L357.19,670.43 L357.83,670.67 L358.44,671.02 L359.01,671.47 L359.56,672 L360.07,672.59 L360.56,673.23 L361.02,673.9 L361.46,674.61 L361.88,675.33 L362.28,676.07 L362.68,676.81 L363.07,677.54 L363.46,678.26 L363.85,678.96 L364.24,679.64 L364.63,680.31 L365.03,680.96 L365.44,681.6 L365.85,682.22 L366.26,682.84 L366.68,683.45 L367.11,684.05 L367.55,684.64 L367.99,685.23 L368.44,685.82 L368.9,686.41 L369.37,686.99 L369.85,687.58 L370.35,688.18 L370.85,688.78 L371.37,689.38 L371.9,690 L372.44,690.61 L373,691.23 L373.57,691.84 L374.15,692.44 L374.74,693.02 L375.34,693.59 L375.95,694.13 L376.57,694.64 L377.2,695.12 L377.85,695.56 L378.5,695.96 L379.16,696.32 L379.82,696.62 L380.5,696.87 L381.18,697.06 L381.87,697.19 L382.57,697.25 L383.27,697.24 L383.98,697.16 L384.69,697.01 L385.4,696.81 L386.1,696.55 L386.8,696.24 L387.48,695.88 L388.16,695.47 L388.82,695.03 L389.46,694.55 L390.08,694.04 L390.68,693.5 L391.26,692.93 L391.8,692.35 L392.32,691.74 L392.8,691.13 L393.25,690.5 L393.66,689.88" fill="none" stroke="#2a2a2a" stroke-width="1.45" stroke-linejoin="round" stroke-linecap="round"/>
<line x1="72.4" y1="665.5" x2="92.6" y2="665.5" stroke="#111" stroke-width="1.7"/>
<path d="M98.6,665.5 L91.6,662.2 L92.3,665.5 L91.6,668.8 Z" fill="#111"/>
<line x1="73.9" y1="879" x2="93" y2="879" stroke="#111" stroke-width="1.7"/>
<path d="M99,879 L92,875.7 L92.7,879 L92,882.3 Z" fill="#111"/>
</svg>
</body></html>
